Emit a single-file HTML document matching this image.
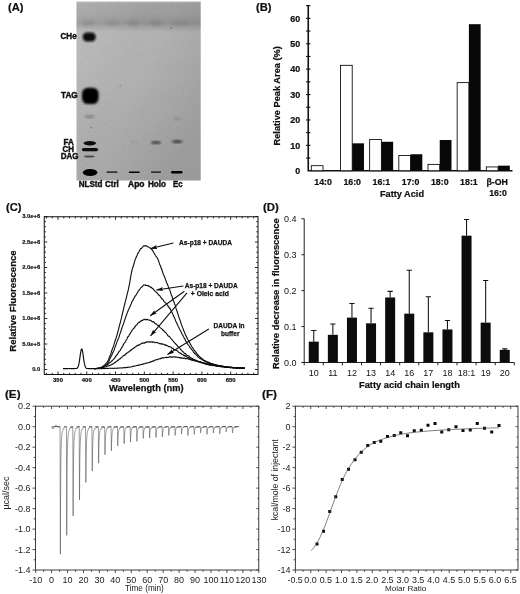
<!DOCTYPE html>
<html><head><meta charset="utf-8"><title>Figure</title>
<style>
html,body{margin:0;padding:0;background:#fff;}
svg{display:block;will-change:transform;filter:grayscale(1);font-family:"Liberation Sans",sans-serif;}
</style></head><body>
<svg width="520" height="594" viewBox="0 0 520 594">
<rect width="520" height="594" fill="#fff"/>
<text x="8" y="11.2" font-size="10.5" font-weight="bold" textLength="15.5" lengthAdjust="spacingAndGlyphs" fill="#111" stroke="#111" stroke-width="0.2">(A)</text>
<defs>
<filter id="noise" x="0" y="0" width="100%" height="100%">
<feTurbulence type="fractalNoise" baseFrequency="0.9" numOctaves="2" seed="3" result="n"/>
<feColorMatrix type="matrix" values="0 0 0 0 0  0 0 0 0 0  0 0 0 0 0  0.9 0 0 0 -0.33"/>
</filter>
<filter id="b1"><feGaussianBlur stdDeviation="1"/></filter>
<filter id="b08"><feGaussianBlur stdDeviation="0.8"/></filter>
<filter id="b06"><feGaussianBlur stdDeviation="0.6"/></filter>
<filter id="b15"><feGaussianBlur stdDeviation="1.5"/></filter>
<filter id="b3"><feGaussianBlur stdDeviation="3"/></filter>
<linearGradient id="plg" x1="0" y1="0" x2="0" y2="1">
<stop offset="0" stop-color="#b8b8b8"/>
<stop offset="0.012" stop-color="#a3a3a3"/>
<stop offset="0.07" stop-color="#a0a0a0"/>
<stop offset="0.12" stop-color="#949494"/>
<stop offset="0.17" stop-color="#b5b5b5"/>
<stop offset="0.45" stop-color="#b3b3b3"/>
<stop offset="0.75" stop-color="#aeaeae"/>
<stop offset="1" stop-color="#ababab"/>
</linearGradient>
<linearGradient id="plh" x1="0" y1="0" x2="1" y2="0.6">
<stop offset="0" stop-color="#fff" stop-opacity="0.15"/>
<stop offset="0.45" stop-color="#fff" stop-opacity="0"/>
<stop offset="0.55" stop-color="#000" stop-opacity="0"/>
<stop offset="1" stop-color="#000" stop-opacity="0.085"/>
</linearGradient>
<clipPath id="pc"><rect x="76.5" y="1.5" width="124.2" height="179"/></clipPath>
</defs>
<rect x="76.5" y="1.5" width="124.2" height="179" fill="url(#plg)"/>
<rect x="76.5" y="1.5" width="124.2" height="179" fill="url(#plh)"/>
<g clip-path="url(#pc)">
<rect x="76.5" y="1.5" width="124.2" height="179" fill="#000" filter="url(#noise)" opacity="0.12"/>
<ellipse cx="88" cy="23" rx="6.0" ry="3.5" fill="#555" opacity="0.16" filter="url(#b15)"/>
<ellipse cx="112" cy="23" rx="7.0" ry="3.5" fill="#555" opacity="0.1" filter="url(#b15)"/>
<ellipse cx="133" cy="23" rx="6.0" ry="3.5" fill="#555" opacity="0.16" filter="url(#b15)"/>
<ellipse cx="156" cy="23" rx="6.0" ry="3.5" fill="#555" opacity="0.16" filter="url(#b15)"/>
<ellipse cx="180" cy="23" rx="8.0" ry="3.5" fill="#555" opacity="0.1" filter="url(#b15)"/>
<circle cx="171" cy="28.3" r="0.7" fill="#444" opacity="0.8"/>
<circle cx="120.2" cy="85.6" r="0.6" fill="#555" opacity="0.7"/>
<circle cx="123.5" cy="84.6" r="0.4" fill="#666" opacity="0.6"/>
<rect x="82.7" y="32.6" width="13" height="8.8" rx="4.2" fill="#0a0a0a" filter="url(#b08)"/>
<rect x="82" y="87.7" width="16.6" height="16.4" rx="5.8" fill="#050505" filter="url(#b08)"/>
<ellipse cx="89.5" cy="116.5" rx="5" ry="2" fill="#666" opacity="0.5" filter="url(#b1)"/>
<circle cx="91.4" cy="127.7" r="0.7" fill="#555" opacity="0.7"/>
<ellipse cx="89.8" cy="143.3" rx="6.3" ry="2.2" fill="#0c0c0c" filter="url(#b06)"/>
<rect x="81.9" y="147.9" width="16.2" height="3.3" rx="1.65" fill="#0a0a0a" filter="url(#b06)"/>
<ellipse cx="89.3" cy="156.5" rx="5.3" ry="1.1" fill="#333" opacity="0.8" filter="url(#b06)"/>
<ellipse cx="90.1" cy="172.5" rx="7.3" ry="3.5" fill="#050505" filter="url(#b06)"/>
<filter id="b04"><feGaussianBlur stdDeviation="0.4"/></filter>
<rect x="106.5" y="171.6" width="11" height="1.2" rx="0.5" fill="#0a0a0a" filter="url(#b04)"/>
<rect x="128.8" y="171.4" width="11" height="1.5" rx="0.6" fill="#050505" filter="url(#b04)"/>
<rect x="151" y="171.5" width="10" height="1.2" rx="0.5" fill="#0a0a0a" filter="url(#b04)"/>
<rect x="171" y="171" width="11.5" height="2.4" rx="1.2" fill="#050505" filter="url(#b04)"/>
<ellipse cx="156" cy="142.6" rx="5" ry="1.5" fill="#333" opacity="0.85" filter="url(#b1)"/>
<ellipse cx="177.2" cy="141.6" rx="5.3" ry="1.6" fill="#333" opacity="0.85" filter="url(#b1)"/>
<ellipse cx="177" cy="118.8" rx="4" ry="1.6" fill="#777" opacity="0.4" filter="url(#b1)"/>
<ellipse cx="134" cy="142" rx="4" ry="2" fill="#888" opacity="0.25" filter="url(#b1)"/>
</g>
<text x="60.6" y="39.2" font-size="8.7" font-weight="bold" textLength="16.0" lengthAdjust="spacingAndGlyphs" fill="#111" stroke="#111" stroke-width="0.45">CHe</text>
<text x="61" y="97.6" font-size="8.7" font-weight="bold" textLength="16.7" lengthAdjust="spacingAndGlyphs" fill="#111" stroke="#111" stroke-width="0.45">TAG</text>
<text x="63.6" y="144.7" font-size="8.7" font-weight="bold" textLength="10.2" lengthAdjust="spacingAndGlyphs" fill="#111" stroke="#111" stroke-width="0.45">FA</text>
<text x="62.5" y="151.8" font-size="8.7" font-weight="bold" textLength="11.5" lengthAdjust="spacingAndGlyphs" fill="#111" stroke="#111" stroke-width="0.45">CH</text>
<text x="60.8" y="158.9" font-size="8.7" font-weight="bold" textLength="17.8" lengthAdjust="spacingAndGlyphs" fill="#111" stroke="#111" stroke-width="0.45">DAG</text>
<text x="78.8" y="187.1" font-size="8.7" font-weight="bold" textLength="23.6" lengthAdjust="spacingAndGlyphs" fill="#111" stroke="#111" stroke-width="0.45">NLStd</text>
<text x="105" y="187.1" font-size="8.7" font-weight="bold" textLength="13.8" lengthAdjust="spacingAndGlyphs" fill="#111" stroke="#111" stroke-width="0.45">Ctrl</text>
<text x="128" y="187.1" font-size="8.7" font-weight="bold" textLength="16.5" lengthAdjust="spacingAndGlyphs" fill="#111" stroke="#111" stroke-width="0.45">Apo</text>
<text x="148" y="187.1" font-size="8.7" font-weight="bold" textLength="18" lengthAdjust="spacingAndGlyphs" fill="#111" stroke="#111" stroke-width="0.45">Holo</text>
<text x="173" y="187.1" font-size="8.7" font-weight="bold" textLength="9.5" lengthAdjust="spacingAndGlyphs" fill="#111" stroke="#111" stroke-width="0.45">Ec</text>
<text x="256" y="11.2" font-size="10.5" font-weight="bold" textLength="15.5" lengthAdjust="spacingAndGlyphs" fill="#111" stroke="#111" stroke-width="0.2">(B)</text>
<path d="M308.25 5 V170.75 H512.5" fill="none" stroke="#111" stroke-width="1.6"/>
<path d="M306.05 158.05 H310.45" stroke="#111" stroke-width="1.1"/>
<path d="M306.05 145.35 H310.45" stroke="#111" stroke-width="1.1"/>
<path d="M306.05 132.65 H310.45" stroke="#111" stroke-width="1.1"/>
<path d="M306.05 119.95 H310.45" stroke="#111" stroke-width="1.1"/>
<path d="M306.05 107.25 H310.45" stroke="#111" stroke-width="1.1"/>
<path d="M306.05 94.55 H310.45" stroke="#111" stroke-width="1.1"/>
<path d="M306.05 81.85 H310.45" stroke="#111" stroke-width="1.1"/>
<path d="M306.05 69.15 H310.45" stroke="#111" stroke-width="1.1"/>
<path d="M306.05 56.45 H310.45" stroke="#111" stroke-width="1.1"/>
<path d="M306.05 43.75 H310.45" stroke="#111" stroke-width="1.1"/>
<path d="M306.05 31.05 H310.45" stroke="#111" stroke-width="1.1"/>
<path d="M306.05 18.35 H310.45" stroke="#111" stroke-width="1.1"/>
<path d="M306.05 5.65 H310.45" stroke="#111" stroke-width="1.1"/>
<text x="300.3" y="173.95" font-size="9" font-weight="bold" text-anchor="end" fill="#111" stroke="#111" stroke-width="0.22">0</text>
<text x="300.3" y="148.55" font-size="9" font-weight="bold" text-anchor="end" fill="#111" stroke="#111" stroke-width="0.22">10</text>
<text x="300.3" y="123.15" font-size="9" font-weight="bold" text-anchor="end" fill="#111" stroke="#111" stroke-width="0.22">20</text>
<text x="300.3" y="97.75" font-size="9" font-weight="bold" text-anchor="end" fill="#111" stroke="#111" stroke-width="0.22">30</text>
<text x="300.3" y="72.35" font-size="9" font-weight="bold" text-anchor="end" fill="#111" stroke="#111" stroke-width="0.22">40</text>
<text x="300.3" y="46.95" font-size="9" font-weight="bold" text-anchor="end" fill="#111" stroke="#111" stroke-width="0.22">50</text>
<text x="300.3" y="21.55" font-size="9" font-weight="bold" text-anchor="end" fill="#111" stroke="#111" stroke-width="0.22">60</text>
<text x="280.5" y="95.8" font-size="9.25" font-weight="bold" text-anchor="middle" transform="rotate(-90 280.5 95.8)" fill="#111" stroke="#111" stroke-width="0.22">Relative Peak Area (%)</text>
<rect x="311.30" y="165.67" width="11.75" height="5.08" fill="#fff" stroke="#111" stroke-width="0.9"/>
<rect x="340.47" y="65.34" width="11.75" height="105.41" fill="#fff" stroke="#111" stroke-width="0.9"/>
<rect x="352.22" y="143.32" width="11.75" height="27.43" fill="#060808"/>
<rect x="369.64" y="139.51" width="11.75" height="31.24" fill="#fff" stroke="#111" stroke-width="0.9"/>
<rect x="381.39" y="141.79" width="11.75" height="28.96" fill="#060808"/>
<rect x="398.81" y="155.51" width="11.75" height="15.24" fill="#fff" stroke="#111" stroke-width="0.9"/>
<rect x="410.56" y="154.24" width="11.75" height="16.51" fill="#060808"/>
<rect x="427.98" y="164.40" width="11.75" height="6.35" fill="#fff" stroke="#111" stroke-width="0.9"/>
<rect x="439.73" y="140.02" width="11.75" height="30.73" fill="#060808"/>
<rect x="457.15" y="82.61" width="11.75" height="88.14" fill="#fff" stroke="#111" stroke-width="0.9"/>
<rect x="468.90" y="24.19" width="11.75" height="146.56" fill="#060808"/>
<rect x="486.32" y="166.94" width="11.75" height="3.81" fill="#fff" stroke="#111" stroke-width="0.9"/>
<rect x="498.07" y="165.67" width="11.75" height="5.08" fill="#060808"/>
<text x="323.05" y="184.6" font-size="8.8" font-weight="bold" text-anchor="middle" fill="#111" stroke="#111" stroke-width="0.22">14:0</text>
<text x="352.22" y="184.6" font-size="8.8" font-weight="bold" text-anchor="middle" fill="#111" stroke="#111" stroke-width="0.22">16:0</text>
<text x="381.39" y="184.6" font-size="8.8" font-weight="bold" text-anchor="middle" fill="#111" stroke="#111" stroke-width="0.22">16:1</text>
<text x="410.56" y="184.6" font-size="8.8" font-weight="bold" text-anchor="middle" fill="#111" stroke="#111" stroke-width="0.22">17:0</text>
<text x="439.73" y="184.6" font-size="8.8" font-weight="bold" text-anchor="middle" fill="#111" stroke="#111" stroke-width="0.22">18:0</text>
<text x="468.9" y="184.6" font-size="8.8" font-weight="bold" text-anchor="middle" fill="#111" stroke="#111" stroke-width="0.22">18:1</text>
<text x="497.2" y="184.6" font-size="8.8" font-weight="bold" text-anchor="middle" fill="#111" stroke="#111" stroke-width="0.22">β-OH</text>
<text x="498" y="196.4" font-size="8.8" font-weight="bold" text-anchor="middle" fill="#111" stroke="#111" stroke-width="0.22">16:0</text>
<text x="402" y="196.8" font-size="9.2" font-weight="bold" text-anchor="middle" fill="#111" stroke="#111" stroke-width="0.22">Fatty Acid</text>
<text x="6" y="210.6" font-size="10.5" font-weight="bold" textLength="15.5" lengthAdjust="spacingAndGlyphs" fill="#111" stroke="#111" stroke-width="0.2">(C)</text>
<rect x="44.25" y="216.75" width="213.75" height="157.75" fill="none" stroke="#111" stroke-width="1"/>
<path d="M46.49 374.5v-1.7M46.49 216.75v1.7M52.24 374.5v-1.7M52.24 216.75v1.7M58.00 374.5v-3M58.00 216.75v3M63.76 374.5v-1.7M63.76 216.75v1.7M69.51 374.5v-1.7M69.51 216.75v1.7M75.27 374.5v-1.7M75.27 216.75v1.7M81.02 374.5v-1.7M81.02 216.75v1.7M86.78 374.5v-3M86.78 216.75v3M92.53 374.5v-1.7M92.53 216.75v1.7M98.28 374.5v-1.7M98.28 216.75v1.7M104.04 374.5v-1.7M104.04 216.75v1.7M109.80 374.5v-1.7M109.80 216.75v1.7M115.55 374.5v-3M115.55 216.75v3M121.31 374.5v-1.7M121.31 216.75v1.7M127.06 374.5v-1.7M127.06 216.75v1.7M132.81 374.5v-1.7M132.81 216.75v1.7M138.57 374.5v-1.7M138.57 216.75v1.7M144.32 374.5v-3M144.32 216.75v3M150.08 374.5v-1.7M150.08 216.75v1.7M155.84 374.5v-1.7M155.84 216.75v1.7M161.59 374.5v-1.7M161.59 216.75v1.7M167.34 374.5v-1.7M167.34 216.75v1.7M173.10 374.5v-3M173.10 216.75v3M178.86 374.5v-1.7M178.86 216.75v1.7M184.61 374.5v-1.7M184.61 216.75v1.7M190.37 374.5v-1.7M190.37 216.75v1.7M196.12 374.5v-1.7M196.12 216.75v1.7M201.88 374.5v-3M201.88 216.75v3M207.63 374.5v-1.7M207.63 216.75v1.7M213.38 374.5v-1.7M213.38 216.75v1.7M219.14 374.5v-1.7M219.14 216.75v1.7M224.90 374.5v-1.7M224.90 216.75v1.7M230.65 374.5v-3M230.65 216.75v3M236.41 374.5v-1.7M236.41 216.75v1.7M242.16 374.5v-1.7M242.16 216.75v1.7M247.91 374.5v-1.7M247.91 216.75v1.7M253.67 374.5v-1.7M253.67 216.75v1.7M44.25 369.50h3M258 369.50h-3M44.25 364.40h1.7M258 364.40h-1.7M44.25 359.30h1.7M258 359.30h-1.7M44.25 354.20h1.7M258 354.20h-1.7M44.25 349.10h1.7M258 349.10h-1.7M44.25 344.00h3M258 344.00h-3M44.25 338.90h1.7M258 338.90h-1.7M44.25 333.80h1.7M258 333.80h-1.7M44.25 328.70h1.7M258 328.70h-1.7M44.25 323.60h1.7M258 323.60h-1.7M44.25 318.50h3M258 318.50h-3M44.25 313.40h1.7M258 313.40h-1.7M44.25 308.30h1.7M258 308.30h-1.7M44.25 303.20h1.7M258 303.20h-1.7M44.25 298.10h1.7M258 298.10h-1.7M44.25 293.00h3M258 293.00h-3M44.25 287.90h1.7M258 287.90h-1.7M44.25 282.80h1.7M258 282.80h-1.7M44.25 277.70h1.7M258 277.70h-1.7M44.25 272.60h1.7M258 272.60h-1.7M44.25 267.50h3M258 267.50h-3M44.25 262.40h1.7M258 262.40h-1.7M44.25 257.30h1.7M258 257.30h-1.7M44.25 252.20h1.7M258 252.20h-1.7M44.25 247.10h1.7M258 247.10h-1.7M44.25 242.00h3M258 242.00h-3M44.25 236.90h1.7M258 236.90h-1.7M44.25 231.80h1.7M258 231.80h-1.7M44.25 226.70h1.7M258 226.70h-1.7M44.25 221.60h1.7M258 221.60h-1.7M44.25 216.50h3M258 216.50h-3" stroke="#111" stroke-width="0.9" fill="none"/>
<text x="40.2" y="371.1" font-size="5.8" font-weight="bold" text-anchor="end" fill="#111" stroke="#111" stroke-width="0.2">0.0</text>
<text x="40.2" y="345.6" font-size="5.8" font-weight="bold" text-anchor="end" fill="#111" stroke="#111" stroke-width="0.2">5.0e+5</text>
<text x="40.2" y="320.1" font-size="5.8" font-weight="bold" text-anchor="end" fill="#111" stroke="#111" stroke-width="0.2">1.0e+6</text>
<text x="40.2" y="294.6" font-size="5.8" font-weight="bold" text-anchor="end" fill="#111" stroke="#111" stroke-width="0.2">1.5e+6</text>
<text x="40.2" y="269.1" font-size="5.8" font-weight="bold" text-anchor="end" fill="#111" stroke="#111" stroke-width="0.2">2.0e+6</text>
<text x="40.2" y="243.6" font-size="5.8" font-weight="bold" text-anchor="end" fill="#111" stroke="#111" stroke-width="0.2">2.5e+6</text>
<text x="40.2" y="218.1" font-size="5.8" font-weight="bold" text-anchor="end" fill="#111" stroke="#111" stroke-width="0.2">3.0e+6</text>
<text x="58.0" y="382.3" font-size="5.9" font-weight="bold" text-anchor="middle" fill="#111" stroke="#111" stroke-width="0.2">350</text>
<text x="86.78" y="382.3" font-size="5.9" font-weight="bold" text-anchor="middle" fill="#111" stroke="#111" stroke-width="0.2">400</text>
<text x="115.55" y="382.3" font-size="5.9" font-weight="bold" text-anchor="middle" fill="#111" stroke="#111" stroke-width="0.2">450</text>
<text x="144.32" y="382.3" font-size="5.9" font-weight="bold" text-anchor="middle" fill="#111" stroke="#111" stroke-width="0.2">500</text>
<text x="173.1" y="382.3" font-size="5.9" font-weight="bold" text-anchor="middle" fill="#111" stroke="#111" stroke-width="0.2">550</text>
<text x="201.88" y="382.3" font-size="5.9" font-weight="bold" text-anchor="middle" fill="#111" stroke="#111" stroke-width="0.2">600</text>
<text x="230.65" y="382.3" font-size="5.9" font-weight="bold" text-anchor="middle" fill="#111" stroke="#111" stroke-width="0.2">650</text>
<text x="146.3" y="390.9" font-size="9.3" font-weight="bold" text-anchor="middle" fill="#111" stroke="#111" stroke-width="0.25">Wavelength (nm)</text>
<text x="15.9" y="301" font-size="9.6" font-weight="bold" text-anchor="middle" transform="rotate(-90 15.9 301)" fill="#111" stroke="#111" stroke-width="0.25">Relative Fluorescence</text>
<path d="M63.00 368.56 L63.50 368.53 L64.00 368.63 L64.50 368.51 L65.00 368.61 L65.50 368.57 L66.00 368.51 L66.50 368.60 L67.00 368.51 L67.50 368.59 L68.00 368.51 L68.50 368.52 L69.00 368.58 L69.50 368.67 L70.00 368.52 L70.50 368.54 L71.00 368.63 L71.50 368.69 L72.00 368.62 L72.50 368.58 L73.00 368.70 L73.50 368.51 L74.00 368.67 L74.50 368.56 L75.00 368.52 L75.50 368.51 L76.00 368.51 L76.50 368.53 L77.00 368.19 L77.50 367.84 L78.00 367.03 L78.50 365.56 L79.00 363.42 L79.50 360.37 L80.00 356.87 L80.50 353.34 L81.00 350.54 L81.50 348.93 L82.00 349.09 L82.50 351.01 L83.00 354.07 L83.50 357.64 L84.00 361.16 L84.50 363.95 L85.00 365.87 L85.50 367.22 L86.00 367.94 L86.50 368.39 L87.00 368.53 L87.50 368.52 L88.00 368.68 L88.50 368.52 L89.00 368.58 L89.50 368.65 L90.00 368.53 L90.50 368.60 L91.00 368.51 L91.50 368.63 L92.00 368.65 L92.50 368.61 L93.00 368.68 L93.50 368.56 L94.00 368.64 L94.50 368.62 L95.00 368.62" fill="none" stroke="#0c0c0c" stroke-width="1.15" stroke-linejoin="round"/>
<path d="M94.50 368.59 L95.00 368.70 L95.50 368.72 L96.00 368.56 L96.50 368.57 L97.00 368.34 L97.50 368.45 L98.00 368.36 L98.50 368.37 L99.00 368.22 L99.50 367.95 L100.00 367.86 L100.50 367.80 L101.00 367.38 L101.50 367.26 L102.00 366.85 L102.50 366.50 L103.00 366.13 L103.50 366.05 L104.00 365.40 L104.50 365.02 L105.00 364.61 L105.50 364.33 L106.00 363.37 L106.50 362.94 L107.00 362.30 L107.50 361.67 L108.00 360.68 L108.50 359.65 L109.00 358.06 L109.50 356.92 L110.00 355.56 L110.50 354.69 L111.00 353.41 L111.50 351.36 L112.00 350.05 L112.50 348.74 L113.00 347.34 L113.50 346.10 L114.00 344.69 L114.50 342.86 L115.00 341.05 L115.50 339.80 L116.00 338.10 L116.50 336.55 L117.00 335.12 L117.50 333.09 L118.00 331.10 L118.50 329.33 L119.00 327.50 L119.50 325.03 L120.00 323.81 L120.50 321.71 L121.00 319.78 L121.50 317.69 L122.00 315.31 L122.50 313.31 L123.00 311.03 L123.50 309.46 L124.00 306.92 L124.50 304.89 L125.00 302.98 L125.50 300.91 L126.00 299.07 L126.50 296.87 L127.00 294.90 L127.50 293.06 L128.00 290.95 L128.50 288.96 L129.00 286.17 L129.50 284.22 L130.00 281.16 L130.50 277.91 L131.00 275.22 L131.50 272.70 L132.00 270.37 L132.50 268.17 L133.00 267.07 L133.50 265.53 L134.00 263.47 L134.50 261.97 L135.00 260.18 L135.50 258.83 L136.00 257.74 L136.50 256.45 L137.00 255.79 L137.50 254.11 L138.00 252.98 L138.50 252.85 L139.00 251.59 L139.50 250.41 L140.00 249.97 L140.50 248.78 L141.00 248.57 L141.50 248.39 L142.00 247.82 L142.50 247.25 L143.00 246.45 L143.50 246.17 L144.00 245.69 L144.50 246.01 L145.00 245.73 L145.50 245.98 L146.00 245.67 L146.50 245.71 L147.00 246.39 L147.50 246.73 L148.00 246.81 L148.50 247.02 L149.00 247.36 L149.50 247.69 L150.00 247.69 L150.50 248.44 L151.00 248.81 L151.50 249.05 L152.00 249.62 L152.50 250.45 L153.00 251.08 L153.50 252.16 L154.00 253.12 L154.50 253.44 L155.00 254.67 L155.50 255.55 L156.00 256.38 L156.50 256.76 L157.00 257.55 L157.50 258.51 L158.00 259.50 L158.50 260.62 L159.00 262.18 L159.50 263.69 L160.00 264.95 L160.50 266.00 L161.00 267.54 L161.50 269.08 L162.00 269.86 L162.50 271.77 L163.00 273.37 L163.50 274.60 L164.00 275.86 L164.50 276.90 L165.00 277.91 L165.50 279.71 L166.00 280.56 L166.50 282.23 L167.00 283.64 L167.50 284.40 L168.00 285.68 L168.50 287.44 L169.00 288.55 L169.50 289.37 L170.00 290.67 L170.50 292.05 L171.00 294.08 L171.50 295.38 L172.00 296.20 L172.50 298.21 L173.00 299.76 L173.50 300.91 L174.00 302.08 L174.50 303.70 L175.00 304.78 L175.50 306.14 L176.00 308.44 L176.50 309.62 L177.00 311.01 L177.50 312.91 L178.00 314.03 L178.50 315.99 L179.00 317.53 L179.50 318.56 L180.00 320.15 L180.50 321.71 L181.00 323.15 L181.50 324.89 L182.00 325.98 L182.50 327.43 L183.00 328.43 L183.50 330.35 L184.00 331.06 L184.50 332.33 L185.00 333.59 L185.50 334.99 L186.00 335.66 L186.50 337.16 L187.00 337.84 L187.50 338.87 L188.00 339.85 L188.50 340.36 L189.00 341.66 L189.50 342.34 L190.00 343.08 L190.50 344.65 L191.00 344.96 L191.50 346.05 L192.00 347.09 L192.50 347.73 L193.00 348.29 L193.50 349.20 L194.00 349.95 L194.50 350.84 L195.00 350.90 L195.50 351.94 L196.00 352.29 L196.50 352.93 L197.00 353.96 L197.50 354.31 L198.00 354.92 L198.50 355.64 L199.00 356.29 L199.50 356.39 L200.00 357.00 L200.50 357.37 L201.00 357.81 L201.50 358.35 L202.00 358.56 L202.50 359.00 L203.00 359.33 L203.50 360.01 L204.00 360.18 L204.50 360.62 L205.00 360.98 L205.50 360.84 L206.00 361.31 L206.50 361.80 L207.00 361.98 L207.50 361.79 L208.00 361.99 L208.50 362.38 L209.00 362.38 L209.50 362.66 L210.00 362.77 L210.50 363.27 L211.00 363.50 L211.50 363.73 L212.00 363.52 L212.50 363.96 L213.00 364.09 L213.50 363.99 L214.00 364.50 L214.50 364.68 L215.00 364.47 L215.50 364.94 L216.00 364.82 L216.50 364.98 L217.00 365.32 L217.50 365.37 L218.00 365.19 L218.50 365.42 L219.00 365.56 L219.50 365.59 L220.00 365.62 L220.50 365.77 L221.00 366.03 L221.50 365.84 L222.00 366.14 L222.50 366.18 L223.00 366.10 L223.50 366.31 L224.00 366.50 L224.50 366.54 L225.00 366.45 L225.50 366.86 L226.00 366.86 L226.50 367.00 L227.00 366.75 L227.50 366.88 L228.00 366.86 L228.50 367.19 L229.00 367.07 L229.50 367.08 L230.00 367.23 L230.50 367.45 L231.00 367.47 L231.50 367.33 L232.00 367.34 L232.50 367.64 L233.00 367.57 L233.50 367.65 L234.00 367.49 L234.50 367.52 L235.00 367.77 L235.50 367.72 L236.00 367.65 L236.50 367.96 L237.00 367.90 L237.50 367.99 L238.00 367.80 L238.50 368.07 L239.00 367.86 L239.50 368.13 L240.00 368.04 L240.50 368.03 L241.00 368.12 L241.50 368.26 L242.00 368.08 L242.50 368.06 L243.00 368.20 L243.50 368.13 L244.00 368.11 L244.50 368.14 L245.00 368.12" fill="none" stroke="#0c0c0c" stroke-width="1.1" stroke-linejoin="round"/>
<path d="M94.50 368.52 L95.00 368.55 L95.50 368.54 L96.00 368.64 L96.50 368.47 L97.00 368.48 L97.50 368.32 L98.00 368.30 L98.50 368.13 L99.00 368.11 L99.50 367.95 L100.00 368.07 L100.50 367.90 L101.00 367.64 L101.50 367.55 L102.00 367.50 L102.50 366.99 L103.00 367.01 L103.50 366.63 L104.00 366.39 L104.50 366.23 L105.00 365.73 L105.50 365.42 L106.00 365.11 L106.50 364.81 L107.00 364.01 L107.50 363.64 L108.00 362.84 L108.50 361.97 L109.00 360.92 L109.50 359.90 L110.00 358.65 L110.50 357.62 L111.00 356.48 L111.50 355.96 L112.00 354.47 L112.50 353.30 L113.00 352.08 L113.50 351.55 L114.00 350.34 L114.50 348.90 L115.00 347.27 L115.50 345.92 L116.00 344.64 L116.50 343.46 L117.00 341.86 L117.50 340.78 L118.00 339.25 L118.50 338.48 L119.00 337.08 L119.50 335.28 L120.00 333.58 L120.50 332.77 L121.00 330.75 L121.50 329.35 L122.00 327.61 L122.50 326.53 L123.00 325.18 L123.50 323.75 L124.00 322.03 L124.50 320.84 L125.00 318.95 L125.50 317.74 L126.00 316.17 L126.50 315.06 L127.00 313.40 L127.50 312.08 L128.00 311.05 L128.50 309.73 L129.00 308.79 L129.50 307.51 L130.00 306.50 L130.50 305.24 L131.00 304.15 L131.50 303.19 L132.00 301.70 L132.50 300.64 L133.00 300.26 L133.50 298.60 L134.00 298.22 L134.50 297.30 L135.00 295.95 L135.50 295.84 L136.00 295.10 L136.50 294.10 L137.00 293.44 L137.50 292.77 L138.00 291.43 L138.50 291.01 L139.00 290.21 L139.50 289.73 L140.00 288.97 L140.50 288.32 L141.00 287.53 L141.50 287.35 L142.00 286.77 L142.50 286.40 L143.00 285.64 L143.50 285.15 L144.00 285.00 L144.50 285.04 L145.00 284.75 L145.50 285.42 L146.00 285.25 L146.50 285.42 L147.00 285.56 L147.50 285.78 L148.00 285.80 L148.50 285.56 L149.00 286.46 L149.50 286.64 L150.00 286.70 L150.50 287.04 L151.00 287.50 L151.50 287.36 L152.00 288.36 L152.50 288.37 L153.00 288.66 L153.50 289.29 L154.00 290.17 L154.50 290.18 L155.00 291.11 L155.50 291.79 L156.00 291.86 L156.50 292.27 L157.00 292.89 L157.50 293.62 L158.00 294.25 L158.50 294.70 L159.00 295.30 L159.50 295.40 L160.00 296.06 L160.50 296.76 L161.00 297.80 L161.50 298.02 L162.00 298.86 L162.50 298.97 L163.00 299.61 L163.50 300.39 L164.00 301.32 L164.50 301.91 L165.00 302.46 L165.50 302.69 L166.00 303.47 L166.50 304.00 L167.00 304.60 L167.50 304.91 L168.00 306.24 L168.50 306.29 L169.00 307.67 L169.50 308.36 L170.00 308.33 L170.50 309.55 L171.00 310.77 L171.50 311.88 L172.00 312.46 L172.50 313.37 L173.00 314.43 L173.50 316.21 L174.00 316.71 L174.50 318.19 L175.00 318.94 L175.50 320.40 L176.00 321.87 L176.50 322.20 L177.00 323.87 L177.50 324.67 L178.00 326.08 L178.50 326.99 L179.00 327.65 L179.50 329.30 L180.00 330.00 L180.50 330.64 L181.00 331.64 L181.50 333.07 L182.00 334.01 L182.50 334.83 L183.00 335.61 L183.50 336.70 L184.00 337.57 L184.50 338.91 L185.00 339.04 L185.50 340.56 L186.00 341.47 L186.50 341.66 L187.00 343.18 L187.50 343.78 L188.00 344.72 L188.50 344.94 L189.00 345.76 L189.50 346.51 L190.00 347.77 L190.50 348.14 L191.00 348.65 L191.50 349.40 L192.00 349.95 L192.50 350.41 L193.00 351.10 L193.50 352.36 L194.00 352.47 L194.50 353.60 L195.00 353.53 L195.50 354.05 L196.00 354.75 L196.50 354.94 L197.00 355.57 L197.50 356.51 L198.00 356.87 L198.50 357.22 L199.00 357.47 L199.50 358.07 L200.00 358.46 L200.50 358.52 L201.00 358.99 L201.50 358.85 L202.00 359.66 L202.50 359.79 L203.00 360.31 L203.50 360.55 L204.00 360.62 L204.50 360.76 L205.00 361.58 L205.50 361.36 L206.00 361.82 L206.50 361.99 L207.00 362.18 L207.50 362.63 L208.00 362.95 L208.50 362.75 L209.00 363.14 L209.50 363.14 L210.00 363.44 L210.50 363.53 L211.00 363.58 L211.50 363.74 L212.00 363.92 L212.50 364.41 L213.00 364.37 L213.50 364.38 L214.00 364.84 L214.50 365.01 L215.00 364.89 L215.50 364.88 L216.00 365.03 L216.50 365.11 L217.00 365.33 L217.50 365.34 L218.00 365.51 L218.50 365.62 L219.00 365.84 L219.50 366.07 L220.00 366.10 L220.50 366.05 L221.00 366.14 L221.50 366.27 L222.00 366.29 L222.50 366.36 L223.00 366.33 L223.50 366.49 L224.00 366.82 L224.50 366.58 L225.00 366.79 L225.50 366.91 L226.00 367.06 L226.50 366.89 L227.00 366.97 L227.50 367.03 L228.00 367.14 L228.50 367.21 L229.00 367.44 L229.50 367.45 L230.00 367.51 L230.50 367.27 L231.00 367.32 L231.50 367.59 L232.00 367.69 L232.50 367.59 L233.00 367.67 L233.50 367.51 L234.00 367.67 L234.50 367.88 L235.00 367.88 L235.50 367.93 L236.00 368.00 L236.50 367.80 L237.00 367.79 L237.50 367.84 L238.00 367.98 L238.50 368.06 L239.00 368.17 L239.50 368.13 L240.00 368.13 L240.50 368.19 L241.00 368.12 L241.50 368.17 L242.00 368.03 L242.50 368.27 L243.00 368.13 L243.50 368.34 L244.00 368.28 L244.50 368.18 L245.00 368.14" fill="none" stroke="#0c0c0c" stroke-width="1.1" stroke-linejoin="round"/>
<path d="M94.50 368.53 L95.00 368.64 L95.50 368.65 L96.00 368.46 L96.50 368.42 L97.00 368.51 L97.50 368.47 L98.00 368.36 L98.50 368.24 L99.00 368.28 L99.50 368.03 L100.00 368.04 L100.50 367.99 L101.00 368.02 L101.50 367.76 L102.00 367.65 L102.50 367.31 L103.00 367.00 L103.50 366.77 L104.00 366.78 L104.50 366.44 L105.00 366.02 L105.50 365.64 L106.00 365.54 L106.50 365.31 L107.00 364.88 L107.50 364.46 L108.00 364.29 L108.50 364.05 L109.00 363.30 L109.50 362.79 L110.00 362.52 L110.50 362.13 L111.00 361.84 L111.50 361.09 L112.00 360.99 L112.50 360.47 L113.00 359.79 L113.50 359.03 L114.00 359.00 L114.50 357.91 L115.00 357.69 L115.50 356.57 L116.00 355.90 L116.50 355.69 L117.00 354.59 L117.50 354.46 L118.00 353.35 L118.50 352.36 L119.00 351.66 L119.50 351.10 L120.00 350.58 L120.50 350.09 L121.00 348.64 L121.50 348.07 L122.00 347.09 L122.50 346.92 L123.00 345.33 L123.50 344.38 L124.00 343.50 L124.50 342.90 L125.00 342.44 L125.50 341.54 L126.00 340.51 L126.50 339.86 L127.00 338.93 L127.50 337.55 L128.00 336.60 L128.50 336.46 L129.00 335.52 L129.50 334.14 L130.00 333.95 L130.50 332.95 L131.00 332.20 L131.50 331.42 L132.00 330.54 L132.50 329.67 L133.00 329.20 L133.50 328.56 L134.00 328.40 L134.50 327.00 L135.00 327.10 L135.50 325.81 L136.00 325.35 L136.50 325.19 L137.00 324.66 L137.50 323.81 L138.00 323.01 L138.50 322.94 L139.00 322.40 L139.50 322.45 L140.00 321.40 L140.50 321.17 L141.00 321.30 L141.50 320.23 L142.00 320.31 L142.50 320.47 L143.00 320.27 L143.50 319.48 L144.00 319.33 L144.50 319.23 L145.00 319.89 L145.50 319.23 L146.00 319.62 L146.50 319.76 L147.00 319.31 L147.50 319.34 L148.00 320.06 L148.50 319.90 L149.00 319.75 L149.50 320.33 L150.00 320.16 L150.50 320.30 L151.00 320.26 L151.50 321.14 L152.00 321.53 L152.50 321.56 L153.00 322.13 L153.50 321.64 L154.00 322.15 L154.50 322.71 L155.00 323.50 L155.50 323.87 L156.00 323.75 L156.50 324.01 L157.00 324.55 L157.50 324.99 L158.00 325.77 L158.50 325.54 L159.00 326.53 L159.50 326.93 L160.00 327.48 L160.50 327.92 L161.00 328.27 L161.50 328.53 L162.00 329.03 L162.50 329.57 L163.00 330.45 L163.50 330.33 L164.00 330.93 L164.50 331.93 L165.00 331.99 L165.50 332.35 L166.00 332.84 L166.50 333.81 L167.00 334.14 L167.50 335.24 L168.00 335.69 L168.50 336.31 L169.00 336.21 L169.50 336.59 L170.00 337.14 L170.50 338.04 L171.00 338.78 L171.50 339.11 L172.00 339.48 L172.50 340.20 L173.00 340.95 L173.50 341.57 L174.00 342.20 L174.50 342.85 L175.00 343.25 L175.50 343.34 L176.00 344.52 L176.50 344.59 L177.00 345.39 L177.50 345.79 L178.00 346.67 L178.50 346.76 L179.00 347.37 L179.50 347.93 L180.00 348.40 L180.50 349.58 L181.00 349.84 L181.50 350.13 L182.00 350.69 L182.50 351.68 L183.00 351.71 L183.50 351.92 L184.00 352.87 L184.50 353.16 L185.00 353.88 L185.50 353.51 L186.00 354.24 L186.50 354.94 L187.00 355.34 L187.50 355.78 L188.00 355.38 L188.50 355.95 L189.00 356.15 L189.50 356.55 L190.00 357.51 L190.50 357.52 L191.00 358.10 L191.50 357.98 L192.00 358.65 L192.50 358.63 L193.00 358.78 L193.50 359.42 L194.00 359.80 L194.50 359.48 L195.00 360.06 L195.50 360.32 L196.00 360.29 L196.50 360.62 L197.00 360.70 L197.50 360.96 L198.00 361.21 L198.50 361.62 L199.00 361.85 L199.50 361.78 L200.00 361.86 L200.50 362.23 L201.00 362.61 L201.50 362.51 L202.00 362.76 L202.50 362.88 L203.00 363.36 L203.50 363.40 L204.00 363.31 L204.50 363.49 L205.00 363.79 L205.50 364.02 L206.00 364.20 L206.50 364.07 L207.00 364.23 L207.50 364.59 L208.00 364.57 L208.50 364.61 L209.00 364.73 L209.50 365.12 L210.00 364.92 L210.50 365.13 L211.00 365.13 L211.50 365.24 L212.00 365.52 L212.50 365.66 L213.00 365.48 L213.50 365.49 L214.00 365.78 L214.50 365.64 L215.00 365.64 L215.50 366.08 L216.00 365.95 L216.50 366.18 L217.00 366.08 L217.50 366.34 L218.00 366.24 L218.50 366.19 L219.00 366.19 L219.50 366.46 L220.00 366.55 L220.50 366.71 L221.00 366.47 L221.50 366.72 L222.00 366.69 L222.50 366.79 L223.00 366.72 L223.50 366.83 L224.00 366.97 L224.50 367.16 L225.00 366.93 L225.50 367.11 L226.00 367.27 L226.50 367.38 L227.00 367.16 L227.50 367.19 L228.00 367.51 L228.50 367.56 L229.00 367.44 L229.50 367.34 L230.00 367.67 L230.50 367.53 L231.00 367.73 L231.50 367.68 L232.00 367.77 L232.50 367.59 L233.00 367.82 L233.50 367.67 L234.00 367.76 L234.50 367.93 L235.00 367.95 L235.50 367.77 L236.00 367.81 L236.50 367.90 L237.00 367.96 L237.50 367.94 L238.00 367.89 L238.50 367.95 L239.00 368.12 L239.50 368.20 L240.00 367.96 L240.50 368.14 L241.00 368.21 L241.50 368.02 L242.00 368.27 L242.50 368.07 L243.00 368.23 L243.50 368.23 L244.00 368.27 L244.50 368.18 L245.00 368.23" fill="none" stroke="#0c0c0c" stroke-width="1.1" stroke-linejoin="round"/>
<path d="M94.50 368.62 L95.00 368.58 L95.50 368.64 L96.00 368.56 L96.50 368.53 L97.00 368.38 L97.50 368.51 L98.00 368.42 L98.50 368.30 L99.00 368.40 L99.50 368.34 L100.00 368.19 L100.50 368.03 L101.00 368.04 L101.50 367.82 L102.00 367.71 L102.50 367.68 L103.00 367.44 L103.50 367.42 L104.00 367.29 L104.50 366.99 L105.00 367.05 L105.50 366.70 L106.00 366.79 L106.50 366.65 L107.00 366.38 L107.50 366.04 L108.00 366.04 L108.50 365.80 L109.00 365.85 L109.50 365.31 L110.00 365.41 L110.50 365.27 L111.00 364.93 L111.50 364.74 L112.00 364.21 L112.50 364.33 L113.00 363.81 L113.50 363.75 L114.00 363.41 L114.50 362.68 L115.00 362.67 L115.50 362.40 L116.00 361.52 L116.50 361.31 L117.00 361.18 L117.50 360.41 L118.00 360.50 L118.50 359.69 L119.00 359.67 L119.50 358.81 L120.00 358.68 L120.50 358.62 L121.00 357.70 L121.50 357.35 L122.00 357.15 L122.50 356.60 L123.00 355.96 L123.50 355.67 L124.00 355.24 L124.50 355.51 L125.00 354.87 L125.50 354.65 L126.00 353.61 L126.50 353.75 L127.00 352.76 L127.50 352.73 L128.00 352.43 L128.50 351.80 L129.00 351.88 L129.50 351.23 L130.00 350.87 L130.50 350.76 L131.00 349.70 L131.50 350.11 L132.00 349.41 L132.50 348.83 L133.00 348.81 L133.50 347.98 L134.00 348.26 L134.50 347.54 L135.00 347.01 L135.50 347.03 L136.00 346.43 L136.50 345.89 L137.00 346.10 L137.50 345.21 L138.00 345.63 L138.50 344.88 L139.00 344.97 L139.50 345.03 L140.00 344.44 L140.50 344.27 L141.00 343.74 L141.50 343.26 L142.00 343.09 L142.50 343.02 L143.00 343.27 L143.50 342.96 L144.00 342.91 L144.50 343.14 L145.00 342.36 L145.50 342.33 L146.00 342.61 L146.50 341.95 L147.00 341.85 L147.50 342.08 L148.00 341.79 L148.50 341.95 L149.00 341.79 L149.50 342.08 L150.00 342.08 L150.50 341.75 L151.00 342.13 L151.50 342.03 L152.00 341.76 L152.50 342.51 L153.00 341.95 L153.50 341.92 L154.00 341.93 L154.50 342.46 L155.00 342.73 L155.50 342.72 L156.00 342.46 L156.50 342.44 L157.00 342.32 L157.50 343.00 L158.00 343.05 L158.50 342.99 L159.00 343.37 L159.50 343.33 L160.00 343.88 L160.50 343.83 L161.00 343.53 L161.50 344.23 L162.00 343.61 L162.50 344.17 L163.00 344.20 L163.50 344.20 L164.00 344.19 L164.50 344.98 L165.00 344.47 L165.50 345.12 L166.00 345.65 L166.50 345.14 L167.00 345.39 L167.50 345.96 L168.00 346.08 L168.50 346.43 L169.00 346.81 L169.50 346.48 L170.00 346.83 L170.50 347.07 L171.00 347.10 L171.50 348.10 L172.00 348.28 L172.50 348.49 L173.00 348.15 L173.50 349.17 L174.00 349.38 L174.50 349.43 L175.00 349.97 L175.50 350.01 L176.00 350.11 L176.50 350.30 L177.00 350.72 L177.50 350.87 L178.00 351.46 L178.50 352.15 L179.00 352.44 L179.50 352.90 L180.00 353.12 L180.50 353.05 L181.00 353.63 L181.50 353.84 L182.00 354.46 L182.50 354.52 L183.00 354.58 L183.50 355.20 L184.00 355.76 L184.50 355.38 L185.00 356.22 L185.50 355.75 L186.00 356.23 L186.50 356.47 L187.00 357.14 L187.50 357.55 L188.00 357.63 L188.50 357.55 L189.00 358.21 L189.50 358.02 L190.00 358.19 L190.50 358.91 L191.00 358.93 L191.50 359.20 L192.00 359.40 L192.50 359.83 L193.00 359.68 L193.50 360.14 L194.00 360.24 L194.50 360.54 L195.00 360.46 L195.50 360.83 L196.00 360.92 L196.50 360.93 L197.00 361.05 L197.50 361.48 L198.00 361.32 L198.50 361.98 L199.00 361.69 L199.50 361.79 L200.00 362.00 L200.50 362.62 L201.00 362.44 L201.50 362.48 L202.00 362.56 L202.50 362.72 L203.00 363.21 L203.50 363.32 L204.00 363.49 L204.50 363.65 L205.00 363.44 L205.50 363.83 L206.00 363.84 L206.50 364.19 L207.00 364.30 L207.50 364.44 L208.00 364.15 L208.50 364.63 L209.00 364.75 L209.50 364.85 L210.00 364.56 L210.50 364.70 L211.00 364.76 L211.50 364.81 L212.00 365.26 L212.50 365.33 L213.00 365.34 L213.50 365.50 L214.00 365.50 L214.50 365.43 L215.00 365.43 L215.50 365.51 L216.00 365.86 L216.50 365.70 L217.00 365.82 L217.50 365.94 L218.00 365.84 L218.50 366.01 L219.00 366.09 L219.50 366.32 L220.00 366.25 L220.50 366.29 L221.00 366.60 L221.50 366.49 L222.00 366.68 L222.50 366.66 L223.00 366.50 L223.50 366.70 L224.00 366.77 L224.50 366.95 L225.00 366.85 L225.50 367.03 L226.00 367.03 L226.50 366.97 L227.00 367.25 L227.50 367.03 L228.00 367.33 L228.50 367.16 L229.00 367.15 L229.50 367.26 L230.00 367.49 L230.50 367.61 L231.00 367.32 L231.50 367.52 L232.00 367.56 L232.50 367.70 L233.00 367.53 L233.50 367.67 L234.00 367.65 L234.50 367.84 L235.00 367.69 L235.50 367.94 L236.00 367.76 L236.50 367.77 L237.00 367.96 L237.50 367.92 L238.00 367.83 L238.50 368.02 L239.00 367.88 L239.50 368.12 L240.00 368.12 L240.50 368.17 L241.00 368.14 L241.50 368.08 L242.00 368.12 L242.50 368.14 L243.00 368.30 L243.50 368.08 L244.00 368.34 L244.50 368.09 L245.00 368.16" fill="none" stroke="#0c0c0c" stroke-width="1.1" stroke-linejoin="round"/>
<path d="M94.50 368.53 L95.00 368.71 L95.50 368.60 L96.00 368.56 L96.50 368.70 L97.00 368.52 L97.50 368.58 L98.00 368.59 L98.50 368.65 L99.00 368.65 L99.50 368.61 L100.00 368.52 L100.50 368.51 L101.00 368.46 L101.50 368.65 L102.00 368.59 L102.50 368.60 L103.00 368.43 L103.50 368.50 L104.00 368.59 L104.50 368.53 L105.00 368.39 L105.50 368.48 L106.00 368.59 L106.50 368.40 L107.00 368.38 L107.50 368.40 L108.00 368.50 L108.50 368.53 L109.00 368.32 L109.50 368.30 L110.00 368.32 L110.50 368.32 L111.00 368.37 L111.50 368.25 L112.00 368.28 L112.50 368.22 L113.00 368.44 L113.50 368.35 L114.00 368.15 L114.50 368.39 L115.00 368.12 L115.50 368.19 L116.00 368.35 L116.50 368.27 L117.00 368.24 L117.50 368.13 L118.00 368.03 L118.50 368.14 L119.00 367.96 L119.50 367.96 L120.00 367.99 L120.50 367.86 L121.00 367.94 L121.50 368.03 L122.00 367.96 L122.50 367.86 L123.00 367.86 L123.50 367.76 L124.00 367.61 L124.50 367.71 L125.00 367.59 L125.50 367.65 L126.00 367.64 L126.50 367.43 L127.00 367.41 L127.50 367.41 L128.00 367.23 L128.50 367.10 L129.00 367.20 L129.50 367.19 L130.00 367.08 L130.50 366.97 L131.00 366.94 L131.50 366.79 L132.00 366.68 L132.50 366.50 L133.00 366.35 L133.50 366.36 L134.00 366.04 L134.50 366.05 L135.00 366.09 L135.50 365.94 L136.00 365.79 L136.50 365.52 L137.00 365.48 L137.50 365.37 L138.00 365.33 L138.50 365.12 L139.00 365.12 L139.50 365.12 L140.00 364.66 L140.50 364.75 L141.00 364.68 L141.50 364.37 L142.00 364.29 L142.50 364.39 L143.00 363.80 L143.50 363.92 L144.00 363.60 L144.50 363.78 L145.00 363.73 L145.50 363.38 L146.00 363.02 L146.50 363.14 L147.00 362.98 L147.50 362.94 L148.00 362.69 L148.50 362.62 L149.00 362.59 L149.50 362.26 L150.00 362.05 L150.50 362.20 L151.00 361.61 L151.50 361.72 L152.00 361.37 L152.50 361.42 L153.00 360.84 L153.50 361.20 L154.00 360.62 L154.50 360.24 L155.00 360.20 L155.50 360.10 L156.00 359.66 L156.50 359.77 L157.00 359.60 L157.50 359.64 L158.00 359.24 L158.50 359.02 L159.00 358.82 L159.50 359.04 L160.00 359.02 L160.50 358.56 L161.00 358.18 L161.50 358.48 L162.00 358.03 L162.50 357.77 L163.00 357.59 L163.50 358.00 L164.00 357.94 L164.50 357.73 L165.00 357.53 L165.50 357.54 L166.00 357.20 L166.50 357.72 L167.00 357.17 L167.50 357.34 L168.00 357.44 L168.50 357.39 L169.00 357.07 L169.50 356.89 L170.00 357.07 L170.50 356.71 L171.00 357.27 L171.50 356.88 L172.00 357.29 L172.50 356.83 L173.00 356.94 L173.50 356.86 L174.00 357.03 L174.50 356.87 L175.00 356.76 L175.50 357.37 L176.00 357.06 L176.50 357.07 L177.00 357.16 L177.50 357.34 L178.00 357.34 L178.50 357.55 L179.00 357.63 L179.50 357.45 L180.00 357.96 L180.50 357.97 L181.00 357.42 L181.50 358.10 L182.00 358.23 L182.50 358.22 L183.00 357.81 L183.50 358.41 L184.00 358.35 L184.50 357.98 L185.00 358.07 L185.50 358.86 L186.00 358.74 L186.50 358.54 L187.00 358.54 L187.50 358.67 L188.00 358.85 L188.50 359.34 L189.00 359.15 L189.50 359.12 L190.00 359.77 L190.50 359.81 L191.00 359.50 L191.50 360.12 L192.00 360.06 L192.50 360.30 L193.00 360.35 L193.50 360.63 L194.00 360.69 L194.50 360.84 L195.00 360.56 L195.50 361.00 L196.00 361.02 L196.50 361.27 L197.00 361.21 L197.50 361.61 L198.00 361.53 L198.50 361.48 L199.00 361.59 L199.50 361.66 L200.00 361.99 L200.50 361.86 L201.00 362.22 L201.50 362.16 L202.00 362.47 L202.50 362.60 L203.00 362.74 L203.50 363.03 L204.00 362.68 L204.50 363.25 L205.00 363.17 L205.50 363.33 L206.00 363.50 L206.50 363.70 L207.00 363.57 L207.50 363.71 L208.00 364.09 L208.50 363.76 L209.00 364.15 L209.50 364.26 L210.00 364.08 L210.50 364.47 L211.00 364.61 L211.50 364.83 L212.00 364.66 L212.50 365.06 L213.00 364.95 L213.50 365.04 L214.00 365.32 L214.50 365.05 L215.00 365.45 L215.50 365.51 L216.00 365.49 L216.50 365.80 L217.00 365.69 L217.50 365.83 L218.00 365.94 L218.50 366.13 L219.00 365.99 L219.50 366.15 L220.00 366.22 L220.50 366.34 L221.00 366.51 L221.50 366.36 L222.00 366.63 L222.50 366.53 L223.00 366.62 L223.50 366.60 L224.00 366.74 L224.50 366.96 L225.00 366.90 L225.50 367.00 L226.00 366.88 L226.50 366.93 L227.00 366.97 L227.50 367.12 L228.00 367.18 L228.50 367.27 L229.00 367.06 L229.50 367.34 L230.00 367.43 L230.50 367.36 L231.00 367.23 L231.50 367.36 L232.00 367.30 L232.50 367.40 L233.00 367.68 L233.50 367.61 L234.00 367.66 L234.50 367.74 L235.00 367.81 L235.50 367.75 L236.00 367.79 L236.50 367.83 L237.00 367.88 L237.50 367.88 L238.00 367.94 L238.50 367.82 L239.00 368.00 L239.50 367.96 L240.00 368.09 L240.50 367.91 L241.00 367.96 L241.50 367.95 L242.00 368.20 L242.50 368.26 L243.00 368.21 L243.50 368.15 L244.00 368.30 L244.50 368.31 L245.00 368.27" fill="none" stroke="#0c0c0c" stroke-width="1.1" stroke-linejoin="round"/>
<text x="179.1" y="245.2" font-size="6.55" font-weight="bold" fill="#111" stroke="#111" stroke-width="0.25">As-p18 + DAUDA</text>
<text x="184.8" y="288" font-size="6.55" font-weight="bold" fill="#111" stroke="#111" stroke-width="0.25">As-p18 + DAUDA</text>
<text x="190.8" y="295.7" font-size="6.55" font-weight="bold" textLength="38" lengthAdjust="spacingAndGlyphs" fill="#111" stroke="#111" stroke-width="0.25">+  Oleic acid</text>
<text x="213.5" y="327.7" font-size="6.55" font-weight="bold" fill="#111" stroke="#111" stroke-width="0.25">DAUDA in</text>
<text x="221" y="335.5" font-size="6.5" font-weight="bold" fill="#111" stroke="#111" stroke-width="0.25">buffer</text>
<defs><marker id="ah" markerWidth="8" markerHeight="6" refX="6.6" refY="3" orient="auto" markerUnits="userSpaceOnUse"><path d="M0 0.9 L7 3 L0 5.1 L1.2 3 Z" fill="#0c0c0c"/></marker></defs>
<line x1="173.4" y1="243.1" x2="150.6" y2="248.6" stroke="#0c0c0c" stroke-width="1.05" marker-end="url(#ah)"/>
<line x1="183.4" y1="286.1" x2="156.5" y2="289.9" stroke="#0c0c0c" stroke-width="1.05" marker-end="url(#ah)"/>
<line x1="184.4" y1="291.3" x2="150.2" y2="315.7" stroke="#0c0c0c" stroke-width="1.05" marker-end="url(#ah)"/>
<line x1="187" y1="292.8" x2="150.6" y2="335.8" stroke="#0c0c0c" stroke-width="1.05" marker-end="url(#ah)"/>
<line x1="208.8" y1="329" x2="167.5" y2="354.5" stroke="#0c0c0c" stroke-width="1.05" marker-end="url(#ah)"/>
<text x="263" y="210.6" font-size="10.5" font-weight="bold" textLength="15.8" lengthAdjust="spacingAndGlyphs" fill="#111" stroke="#111" stroke-width="0.2">(D)</text>
<path d="M304.2 218.6 V362.5 H514.3" fill="none" stroke="#222" stroke-width="1"/>
<text x="296.5" y="365.7" font-size="9" text-anchor="end" fill="#111">0.0</text>
<text x="296.5" y="329.77" font-size="9" text-anchor="end" fill="#111">0.1</text>
<text x="296.5" y="293.84" font-size="9" text-anchor="end" fill="#111">0.2</text>
<text x="296.5" y="257.91" font-size="9" text-anchor="end" fill="#111">0.3</text>
<text x="296.5" y="221.98" font-size="9" text-anchor="end" fill="#111">0.4</text>
<path d="M304.2 362.50h-2.8M304.2 326.57h-2.8M304.2 290.64h-2.8M304.2 254.71h-2.8M304.2 218.78h-2.8M304.20 362.5v2.8M323.30 362.5v2.8M342.40 362.5v2.8M361.50 362.5v2.8M380.60 362.5v2.8M399.70 362.5v2.8M418.80 362.5v2.8M437.90 362.5v2.8M457.00 362.5v2.8M476.10 362.5v2.8M495.20 362.5v2.8M514.30 362.5v2.8" stroke="#222" stroke-width="1" fill="none"/>
<rect x="308.75" y="341.66" width="10" height="20.84" fill="#0a0c0c"/>
<path d="M313.75 341.66V330.52M311.15 330.52h5.2" stroke="#111" stroke-width="1.05" fill="none"/>
<text x="313.75" y="375.8" font-size="9" text-anchor="middle" fill="#111">10</text>
<rect x="327.85" y="334.83" width="10" height="27.67" fill="#0a0c0c"/>
<path d="M332.85 334.83V324.05M330.25 324.05h5.2" stroke="#111" stroke-width="1.05" fill="none"/>
<text x="332.85" y="375.8" font-size="9" text-anchor="middle" fill="#111">11</text>
<rect x="346.95" y="317.59" width="10" height="44.91" fill="#0a0c0c"/>
<path d="M351.95 317.59V303.57M349.35 303.57h5.2" stroke="#111" stroke-width="1.05" fill="none"/>
<text x="351.95" y="375.8" font-size="9" text-anchor="middle" fill="#111">12</text>
<rect x="366.05" y="323.34" width="10" height="39.16" fill="#0a0c0c"/>
<path d="M371.05 323.34V308.25M368.45 308.25h5.2" stroke="#111" stroke-width="1.05" fill="none"/>
<text x="371.05" y="375.8" font-size="9" text-anchor="middle" fill="#111">13</text>
<rect x="385.15" y="297.47" width="10" height="65.03" fill="#0a0c0c"/>
<path d="M390.15 297.47V291.36M387.55 291.36h5.2" stroke="#111" stroke-width="1.05" fill="none"/>
<text x="390.15" y="375.8" font-size="9" text-anchor="middle" fill="#111">14</text>
<rect x="404.25" y="313.64" width="10" height="48.86" fill="#0a0c0c"/>
<path d="M409.25 313.64V270.16M406.65 270.16h5.2" stroke="#111" stroke-width="1.05" fill="none"/>
<text x="409.25" y="375.8" font-size="9" text-anchor="middle" fill="#111">16</text>
<rect x="423.35" y="332.32" width="10" height="30.18" fill="#0a0c0c"/>
<path d="M428.35 332.32V296.75M425.75 296.75h5.2" stroke="#111" stroke-width="1.05" fill="none"/>
<text x="428.35" y="375.8" font-size="9" text-anchor="middle" fill="#111">17</text>
<rect x="442.45" y="329.44" width="10" height="33.06" fill="#0a0c0c"/>
<path d="M447.45 329.44V320.46M444.85 320.46h5.2" stroke="#111" stroke-width="1.05" fill="none"/>
<text x="447.45" y="375.8" font-size="9" text-anchor="middle" fill="#111">18</text>
<rect x="461.55" y="235.67" width="10" height="126.83" fill="#0a0c0c"/>
<path d="M466.55 235.67V219.50M463.95 219.50h5.2" stroke="#111" stroke-width="1.05" fill="none"/>
<text x="466.55" y="375.8" font-size="9" text-anchor="middle" fill="#111">18:1</text>
<rect x="480.65" y="322.62" width="10" height="39.88" fill="#0a0c0c"/>
<path d="M485.65 322.62V280.58M483.05 280.58h5.2" stroke="#111" stroke-width="1.05" fill="none"/>
<text x="485.65" y="375.8" font-size="9" text-anchor="middle" fill="#111">19</text>
<rect x="499.75" y="349.92" width="10" height="12.58" fill="#0a0c0c"/>
<path d="M504.75 349.92V348.85M502.15 348.85h5.2" stroke="#111" stroke-width="1.05" fill="none"/>
<text x="504.75" y="375.8" font-size="9" text-anchor="middle" fill="#111">20</text>
<text x="409.4" y="387.6" font-size="9.32" font-weight="bold" text-anchor="middle" fill="#111" stroke="#111" stroke-width="0.22">Fatty acid chain length</text>
<text x="279.2" y="293.6" font-size="9.4" font-weight="bold" text-anchor="middle" transform="rotate(-90 279.2 293.6)" fill="#111" stroke="#111" stroke-width="0.22">Relative decrease in fluorescence</text>
<text x="5" y="397.6" font-size="10.5" font-weight="bold" textLength="15.5" lengthAdjust="spacingAndGlyphs" fill="#111" stroke="#111" stroke-width="0.2">(E)</text>
<rect x="35.5" y="406.2" width="223.25" height="163.8" fill="none" stroke="#3c3c3c" stroke-width="1"/>
<path d="M35.66 570.0v3M35.66 406.2v2.8M43.63 570.0v1.8M43.63 406.2v1.6M51.60 570.0v3M51.60 406.2v2.8M59.57 570.0v1.8M59.57 406.2v1.6M67.54 570.0v3M67.54 406.2v2.8M75.51 570.0v1.8M75.51 406.2v1.6M83.48 570.0v3M83.48 406.2v2.8M91.45 570.0v1.8M91.45 406.2v1.6M99.42 570.0v3M99.42 406.2v2.8M107.39 570.0v1.8M107.39 406.2v1.6M115.36 570.0v3M115.36 406.2v2.8M123.33 570.0v1.8M123.33 406.2v1.6M131.30 570.0v3M131.30 406.2v2.8M139.27 570.0v1.8M139.27 406.2v1.6M147.24 570.0v3M147.24 406.2v2.8M155.21 570.0v1.8M155.21 406.2v1.6M163.18 570.0v3M163.18 406.2v2.8M171.15 570.0v1.8M171.15 406.2v1.6M179.12 570.0v3M179.12 406.2v2.8M187.09 570.0v1.8M187.09 406.2v1.6M195.06 570.0v3M195.06 406.2v2.8M203.03 570.0v1.8M203.03 406.2v1.6M211.00 570.0v3M211.00 406.2v2.8M218.97 570.0v1.8M218.97 406.2v1.6M226.94 570.0v3M226.94 406.2v2.8M234.91 570.0v1.8M234.91 406.2v1.6M242.88 570.0v3M242.88 406.2v2.8M250.85 570.0v1.8M250.85 406.2v1.6M258.82 570.0v3M258.82 406.2v2.8M35.5 406.20h-3M258.75 406.20h-2.4000000000000004M35.5 416.44h-1.8M258.75 416.44h-1.4400000000000002M35.5 426.68h-3M258.75 426.68h-2.4000000000000004M35.5 436.92h-1.8M258.75 436.92h-1.4400000000000002M35.5 447.16h-3M258.75 447.16h-2.4000000000000004M35.5 457.40h-1.8M258.75 457.40h-1.4400000000000002M35.5 467.64h-3M258.75 467.64h-2.4000000000000004M35.5 477.88h-1.8M258.75 477.88h-1.4400000000000002M35.5 488.12h-3M258.75 488.12h-2.4000000000000004M35.5 498.36h-1.8M258.75 498.36h-1.4400000000000002M35.5 508.60h-3M258.75 508.60h-2.4000000000000004M35.5 518.84h-1.8M258.75 518.84h-1.4400000000000002M35.5 529.08h-3M258.75 529.08h-2.4000000000000004M35.5 539.32h-1.8M258.75 539.32h-1.4400000000000002M35.5 549.56h-3M258.75 549.56h-2.4000000000000004M35.5 559.80h-1.8M258.75 559.80h-1.4400000000000002M35.5 570.04h-3M258.75 570.04h-2.4000000000000004" stroke="#3c3c3c" stroke-width="0.9" fill="none"/>
<text x="30.5" y="409.4" font-size="9" text-anchor="end" fill="#222">0.2</text>
<text x="30.5" y="429.88" font-size="9" text-anchor="end" fill="#222">0.0</text>
<text x="30.5" y="450.36" font-size="9" text-anchor="end" fill="#222">-0.2</text>
<text x="30.5" y="470.84" font-size="9" text-anchor="end" fill="#222">-0.4</text>
<text x="30.5" y="491.32" font-size="9" text-anchor="end" fill="#222">-0.6</text>
<text x="30.5" y="511.8" font-size="9" text-anchor="end" fill="#222">-0.8</text>
<text x="30.5" y="532.28" font-size="9" text-anchor="end" fill="#222">-1.0</text>
<text x="30.5" y="552.76" font-size="9" text-anchor="end" fill="#222">-1.2</text>
<text x="30.5" y="573.24" font-size="9" text-anchor="end" fill="#222">-1.4</text>
<text x="35.66" y="582.9" font-size="9" text-anchor="middle" fill="#222">-10</text>
<text x="51.6" y="582.9" font-size="9" text-anchor="middle" fill="#222">0</text>
<text x="67.54" y="582.9" font-size="9" text-anchor="middle" fill="#222">10</text>
<text x="83.48" y="582.9" font-size="9" text-anchor="middle" fill="#222">20</text>
<text x="99.42" y="582.9" font-size="9" text-anchor="middle" fill="#222">30</text>
<text x="115.36" y="582.9" font-size="9" text-anchor="middle" fill="#222">40</text>
<text x="131.3" y="582.9" font-size="9" text-anchor="middle" fill="#222">50</text>
<text x="147.24" y="582.9" font-size="9" text-anchor="middle" fill="#222">60</text>
<text x="163.18" y="582.9" font-size="9" text-anchor="middle" fill="#222">70</text>
<text x="179.12" y="582.9" font-size="9" text-anchor="middle" fill="#222">80</text>
<text x="195.06" y="582.9" font-size="9" text-anchor="middle" fill="#222">90</text>
<text x="211.0" y="582.9" font-size="9" text-anchor="middle" fill="#222">100</text>
<text x="226.94" y="582.9" font-size="9" text-anchor="middle" fill="#222">110</text>
<text x="242.88" y="582.9" font-size="9" text-anchor="middle" fill="#222">120</text>
<text x="251.52" y="582.9" font-size="9" fill="#222">130</text>
<text x="144.4" y="590.6" font-size="8.2" text-anchor="middle" fill="#222">Time (min)</text>
<text x="8.6" y="493" font-size="9" text-anchor="middle" transform="rotate(-90 8.6 493)" fill="#222">µcal/sec</text>
<path d="M51.60 426.70 L51.68 426.83 L51.76 426.78 L51.84 426.99 L51.92 427.15 L52.00 427.27 L52.08 427.57 L52.16 427.67 L52.24 427.71 L52.32 427.66 L52.40 427.98 L52.48 428.14 L52.56 428.37 L52.64 428.20 L52.72 428.12 L52.80 428.38 L52.88 428.12 L52.95 427.91 L53.03 427.88 L53.11 427.87 L53.19 428.08 L53.27 428.30 L53.35 428.21 L53.43 428.35 L53.51 428.38 L53.59 428.36 L53.67 428.43 L53.75 428.26 L53.83 428.11 L53.91 427.78 L53.99 427.65 L54.07 427.46 L54.15 427.37 L54.23 427.19 L54.31 427.13 L54.39 427.15 L54.47 426.80 L54.55 426.50 L54.63 426.32 L54.71 426.22 L54.79 426.32 L54.87 426.44 L54.95 426.48 L55.03 426.61 L55.11 426.37 L55.19 426.34 L55.27 426.09 L55.35 426.12 L55.43 425.85 L55.51 425.68 L55.59 425.96 L55.66 426.08 L55.74 425.83 L55.82 425.85 L55.90 425.61 L55.98 425.71 L56.06 425.95 L56.14 425.88 L56.22 425.75 L56.30 425.91 L56.38 426.13 L56.46 426.19 L56.54 425.94 L56.62 425.85 L56.70 426.10 L56.78 426.24 L56.86 426.44 L56.94 426.63 L57.02 426.43 L57.10 426.58 L57.18 426.53 L57.26 426.55 L57.34 426.71 L57.42 426.57 L57.50 426.77 L57.58 426.69 L57.66 426.89 L57.74 426.91 L57.82 427.04 L57.90 427.12 L57.98 426.85 L58.06 426.72 L58.14 426.87 L58.22 426.70 L58.29 426.91 L58.37 426.99 L58.45 426.83 L58.53 426.81 L58.61 427.07 L58.69 426.84 L58.77 427.03 L58.85 426.79 L58.93 426.63 L59.01 426.73 L59.09 426.82 L59.17 427.00 L59.25 427.14 L59.33 427.01 L59.41 427.07 L59.49 426.94 L59.57 426.95 L59.65 426.92 L59.73 426.65 L59.81 426.66 L59.89 426.63 L59.97 426.46 L60.05 426.66 L60.13 458.70 L60.21 490.35 L60.29 522.08 L60.37 554.12 L60.45 527.61 L60.53 507.19 L60.61 491.49 L60.69 479.79 L60.77 470.38 L60.85 463.09 L60.92 457.49 L61.00 453.15 L61.08 449.83 L61.16 447.17 L61.24 444.54 L61.32 442.72 L61.40 440.95 L61.48 439.68 L61.56 438.30 L61.64 437.23 L61.72 436.44 L61.80 435.78 L61.88 434.92 L61.96 434.48 L62.04 433.98 L62.12 433.35 L62.20 432.65 L62.28 432.15 L62.36 431.86 L62.44 431.27 L62.52 431.10 L62.60 431.01 L62.68 430.78 L62.76 430.47 L62.84 430.38 L62.92 430.22 L63.00 429.96 L63.08 429.63 L63.16 429.56 L63.24 429.36 L63.32 428.92 L63.40 428.51 L63.48 428.31 L63.55 428.13 L63.63 428.01 L63.71 428.12 L63.79 428.25 L63.87 428.34 L63.95 427.97 L64.03 427.76 L64.11 427.46 L64.19 427.67 L64.27 427.52 L64.35 427.47 L64.43 427.30 L64.51 427.36 L64.59 427.07 L64.67 427.28 L64.75 427.22 L64.83 427.07 L64.91 426.86 L64.99 426.77 L65.07 426.71 L65.15 426.61 L65.23 426.47 L65.31 426.63 L65.39 426.59 L65.47 426.45 L65.55 426.35 L65.63 426.49 L65.71 426.42 L65.79 426.32 L65.87 426.39 L65.95 426.41 L66.03 426.54 L66.11 426.55 L66.19 426.55 L66.26 426.80 L66.34 426.72 L66.42 426.49 L66.50 453.51 L66.58 480.75 L66.66 508.16 L66.74 535.37 L66.82 514.24 L66.90 497.88 L66.98 484.92 L67.06 475.13 L67.14 467.09 L67.22 461.08 L67.30 456.00 L67.38 451.98 L67.46 448.84 L67.54 446.04 L67.62 443.84 L67.70 441.94 L67.78 440.19 L67.86 439.04 L67.94 438.17 L68.02 437.25 L68.10 436.25 L68.18 435.61 L68.26 435.05 L68.34 434.18 L68.42 433.54 L68.50 433.07 L68.58 432.42 L68.66 432.13 L68.74 431.68 L68.82 431.50 L68.89 431.20 L68.97 430.73 L69.05 430.27 L69.13 429.88 L69.21 429.78 L69.29 429.57 L69.37 429.50 L69.45 429.51 L69.53 429.31 L69.61 428.97 L69.69 428.66 L69.77 428.46 L69.85 428.16 L69.93 428.24 L70.01 428.34 L70.09 428.26 L70.17 428.27 L70.25 428.29 L70.33 428.20 L70.41 428.01 L70.49 427.91 L70.57 427.91 L70.65 427.64 L70.73 427.34 L70.81 427.36 L70.89 427.55 L70.97 427.71 L71.05 427.43 L71.13 427.60 L71.21 427.40 L71.29 427.31 L71.37 427.35 L71.45 427.15 L71.53 427.36 L71.60 427.46 L71.68 427.39 L71.76 427.54 L71.84 427.26 L71.92 427.32 L72.00 427.41 L72.08 427.53 L72.16 427.34 L72.24 427.27 L72.32 427.12 L72.40 426.99 L72.48 426.81 L72.56 426.58 L72.64 426.54 L72.72 426.74 L72.80 426.60 L72.88 449.05 L72.96 471.54 L73.04 493.76 L73.12 515.88 L73.20 499.98 L73.28 487.33 L73.36 477.21 L73.44 468.97 L73.52 462.44 L73.60 457.13 L73.68 452.76 L73.76 449.38 L73.84 446.41 L73.92 443.90 L74.00 442.22 L74.08 440.39 L74.16 438.95 L74.23 438.01 L74.31 437.04 L74.39 436.10 L74.47 435.14 L74.55 434.57 L74.63 433.97 L74.71 433.27 L74.79 432.69 L74.87 432.11 L74.95 431.83 L75.03 431.47 L75.11 431.36 L75.19 430.97 L75.27 430.57 L75.35 430.31 L75.43 430.02 L75.51 430.01 L75.59 429.63 L75.67 429.26 L75.75 428.93 L75.83 428.87 L75.91 428.66 L75.99 428.71 L76.07 428.43 L76.15 428.22 L76.23 428.28 L76.31 428.44 L76.39 428.38 L76.47 428.26 L76.55 428.04 L76.63 427.99 L76.71 428.16 L76.79 427.91 L76.86 428.05 L76.94 427.80 L77.02 427.90 L77.10 427.88 L77.18 427.64 L77.26 427.76 L77.34 427.84 L77.42 427.71 L77.50 427.51 L77.58 427.28 L77.66 427.16 L77.74 426.94 L77.82 426.97 L77.90 426.77 L77.98 427.03 L78.06 427.17 L78.14 427.13 L78.22 427.20 L78.30 427.04 L78.38 426.96 L78.46 426.94 L78.54 426.77 L78.62 426.77 L78.70 426.89 L78.78 426.94 L78.86 426.76 L78.94 426.58 L79.02 426.78 L79.10 426.62 L79.18 426.23 L79.26 444.61 L79.34 462.96 L79.42 481.47 L79.50 499.78 L79.57 487.35 L79.65 477.30 L79.73 469.47 L79.81 462.67 L79.89 457.37 L79.97 453.11 L80.05 449.42 L80.13 446.50 L80.21 444.12 L80.29 442.04 L80.37 440.60 L80.45 439.15 L80.53 437.97 L80.61 436.70 L80.69 435.63 L80.77 435.04 L80.85 434.40 L80.93 434.01 L81.01 433.49 L81.09 432.83 L81.17 432.22 L81.25 431.89 L81.33 431.66 L81.41 431.50 L81.49 431.13 L81.57 430.64 L81.65 430.61 L81.73 430.23 L81.81 430.26 L81.89 430.18 L81.97 430.07 L82.05 429.73 L82.13 429.62 L82.20 429.48 L82.28 429.23 L82.36 429.25 L82.44 428.95 L82.52 428.98 L82.60 428.80 L82.68 428.77 L82.76 428.76 L82.84 428.57 L82.92 428.45 L83.00 428.37 L83.08 428.28 L83.16 428.13 L83.24 428.19 L83.32 428.20 L83.40 427.99 L83.48 427.81 L83.56 427.71 L83.64 427.47 L83.72 427.38 L83.80 427.19 L83.88 427.33 L83.96 427.19 L84.04 427.03 L84.12 426.86 L84.20 427.00 L84.28 427.11 L84.36 426.90 L84.44 427.07 L84.52 426.82 L84.60 426.67 L84.68 426.91 L84.76 427.05 L84.83 426.92 L84.91 427.05 L84.99 427.22 L85.07 427.00 L85.15 427.02 L85.23 426.85 L85.31 427.04 L85.39 427.05 L85.47 426.92 L85.55 426.92 L85.63 441.03 L85.71 454.87 L85.79 468.64 L85.87 482.42 L85.95 473.67 L86.03 466.34 L86.11 460.22 L86.19 455.34 L86.27 451.23 L86.35 448.09 L86.43 445.54 L86.51 443.40 L86.59 441.63 L86.67 439.90 L86.75 438.45 L86.83 437.21 L86.91 436.35 L86.99 435.59 L87.07 434.92 L87.15 434.02 L87.23 433.17 L87.31 432.48 L87.39 432.29 L87.47 432.11 L87.54 431.49 L87.62 431.20 L87.70 430.79 L87.78 430.64 L87.86 430.42 L87.94 430.19 L88.02 430.02 L88.10 429.77 L88.18 429.84 L88.26 429.53 L88.34 429.19 L88.42 429.22 L88.50 429.09 L88.58 428.83 L88.66 428.77 L88.74 428.80 L88.82 428.83 L88.90 428.67 L88.98 428.77 L89.06 428.40 L89.14 428.14 L89.22 427.96 L89.30 427.74 L89.38 427.66 L89.46 427.70 L89.54 427.62 L89.62 427.60 L89.70 427.33 L89.78 427.20 L89.86 427.36 L89.94 427.15 L90.02 427.07 L90.10 426.97 L90.17 426.87 L90.25 426.99 L90.33 426.83 L90.41 426.71 L90.49 426.70 L90.57 426.65 L90.65 426.61 L90.73 426.75 L90.81 426.70 L90.89 426.97 L90.97 427.06 L91.05 427.06 L91.13 427.28 L91.21 427.29 L91.29 427.15 L91.37 427.05 L91.45 427.15 L91.53 426.88 L91.61 426.80 L91.69 426.90 L91.77 426.82 L91.85 426.79 L91.93 426.57 L92.01 437.83 L92.09 448.78 L92.17 459.95 L92.25 471.10 L92.33 464.10 L92.41 458.25 L92.49 453.90 L92.57 450.01 L92.65 446.73 L92.73 444.24 L92.80 442.09 L92.88 440.47 L92.96 439.02 L93.04 437.70 L93.12 436.72 L93.20 435.81 L93.28 434.70 L93.36 433.93 L93.44 433.30 L93.52 432.52 L93.60 432.05 L93.68 431.42 L93.76 431.06 L93.84 430.65 L93.92 430.65 L94.00 430.37 L94.08 430.03 L94.16 430.08 L94.24 429.67 L94.32 429.69 L94.40 429.53 L94.48 429.52 L94.56 429.34 L94.64 429.12 L94.72 429.19 L94.80 428.80 L94.88 428.72 L94.96 428.60 L95.04 428.45 L95.12 428.42 L95.20 428.43 L95.28 428.24 L95.36 428.13 L95.44 428.16 L95.51 427.96 L95.59 428.00 L95.67 428.16 L95.75 428.16 L95.83 428.25 L95.91 428.27 L95.99 427.97 L96.07 427.91 L96.15 427.60 L96.23 427.42 L96.31 427.62 L96.39 427.30 L96.47 427.07 L96.55 427.30 L96.63 427.08 L96.71 427.12 L96.79 427.13 L96.87 426.89 L96.95 427.06 L97.03 427.05 L97.11 426.83 L97.19 426.76 L97.27 426.82 L97.35 426.62 L97.43 426.53 L97.51 426.57 L97.59 426.83 L97.67 426.79 L97.75 426.84 L97.83 426.99 L97.91 427.19 L97.99 427.12 L98.07 427.25 L98.14 427.20 L98.22 427.05 L98.30 426.82 L98.38 436.02 L98.46 445.05 L98.54 454.18 L98.62 463.12 L98.70 457.61 L98.78 452.82 L98.86 448.88 L98.94 445.73 L99.02 443.35 L99.10 441.42 L99.18 439.41 L99.26 437.78 L99.34 436.49 L99.42 435.53 L99.50 434.75 L99.58 433.87 L99.66 433.18 L99.74 432.57 L99.82 432.02 L99.90 431.48 L99.98 431.30 L100.06 431.08 L100.14 430.52 L100.22 430.08 L100.30 429.71 L100.38 429.81 L100.46 429.85 L100.54 429.75 L100.62 429.58 L100.70 429.32 L100.77 429.36 L100.85 429.15 L100.93 429.19 L101.01 429.21 L101.09 428.91 L101.17 428.72 L101.25 428.52 L101.33 428.47 L101.41 428.36 L101.49 428.40 L101.57 428.35 L101.65 428.10 L101.73 427.85 L101.81 428.01 L101.89 428.11 L101.97 427.84 L102.05 427.71 L102.13 427.52 L102.21 427.64 L102.29 427.62 L102.37 427.68 L102.45 427.46 L102.53 427.48 L102.61 427.36 L102.69 427.09 L102.77 427.19 L102.85 427.16 L102.93 427.04 L103.01 426.85 L103.09 426.93 L103.17 427.02 L103.25 427.23 L103.33 427.00 L103.41 427.21 L103.48 427.38 L103.56 427.27 L103.64 427.21 L103.72 427.07 L103.80 427.14 L103.88 426.97 L103.96 427.16 L104.04 427.25 L104.12 427.10 L104.20 427.26 L104.28 427.28 L104.36 427.09 L104.44 426.94 L104.52 427.03 L104.60 427.17 L104.68 426.98 L104.76 433.80 L104.84 440.83 L104.92 447.97 L105.00 454.79 L105.08 450.61 L105.16 446.97 L105.24 443.94 L105.32 441.43 L105.40 439.57 L105.48 437.82 L105.56 436.60 L105.64 435.56 L105.72 434.63 L105.80 433.58 L105.88 432.71 L105.96 432.28 L106.04 431.85 L106.11 431.47 L106.19 431.14 L106.27 430.82 L106.35 430.54 L106.43 430.39 L106.51 430.06 L106.59 429.66 L106.67 429.45 L106.75 429.11 L106.83 428.95 L106.91 429.00 L106.99 428.73 L107.07 428.45 L107.15 428.49 L107.23 428.65 L107.31 428.51 L107.39 428.38 L107.47 428.24 L107.55 427.93 L107.63 427.82 L107.71 427.65 L107.79 427.87 L107.87 427.79 L107.95 427.61 L108.03 427.80 L108.11 427.94 L108.19 427.72 L108.27 427.46 L108.35 427.65 L108.43 427.52 L108.51 427.65 L108.59 427.46 L108.67 427.34 L108.74 427.44 L108.82 427.53 L108.90 427.33 L108.98 427.28 L109.06 427.12 L109.14 427.17 L109.22 427.23 L109.30 426.97 L109.38 426.90 L109.46 426.93 L109.54 426.92 L109.62 426.83 L109.70 426.76 L109.78 426.59 L109.86 426.71 L109.94 426.59 L110.02 426.58 L110.10 426.47 L110.18 426.41 L110.26 426.34 L110.34 426.26 L110.42 426.15 L110.50 426.23 L110.58 426.34 L110.66 426.34 L110.74 426.29 L110.82 426.44 L110.90 426.55 L110.98 426.78 L111.06 426.50 L111.14 432.29 L111.22 438.42 L111.30 444.62 L111.38 450.76 L111.45 447.29 L111.53 444.46 L111.61 441.77 L111.69 439.98 L111.77 438.34 L111.85 437.06 L111.93 435.72 L112.01 434.52 L112.09 433.81 L112.17 433.25 L112.25 432.57 L112.33 431.93 L112.41 431.22 L112.49 431.06 L112.57 430.86 L112.65 430.64 L112.73 430.42 L112.81 430.21 L112.89 429.79 L112.97 429.49 L113.05 429.41 L113.13 429.35 L113.21 429.24 L113.29 429.19 L113.37 428.85 L113.45 428.78 L113.53 428.59 L113.61 428.30 L113.69 428.22 L113.77 428.25 L113.85 427.96 L113.93 427.70 L114.01 427.76 L114.08 427.70 L114.16 427.45 L114.24 427.47 L114.32 427.60 L114.40 427.79 L114.48 427.49 L114.56 427.31 L114.64 427.37 L114.72 427.34 L114.80 427.32 L114.88 427.41 L114.96 427.13 L115.04 427.06 L115.12 427.21 L115.20 427.44 L115.28 427.39 L115.36 427.39 L115.44 427.18 L115.52 427.05 L115.60 427.00 L115.68 427.17 L115.76 427.31 L115.84 427.33 L115.92 427.38 L116.00 427.11 L116.08 427.07 L116.16 426.98 L116.24 426.72 L116.32 426.87 L116.40 426.86 L116.48 427.04 L116.56 426.87 L116.64 427.12 L116.71 426.91 L116.79 426.73 L116.87 426.59 L116.95 426.85 L117.03 426.96 L117.11 426.82 L117.19 427.02 L117.27 426.99 L117.35 426.96 L117.43 426.71 L117.51 431.41 L117.59 436.12 L117.67 441.14 L117.75 445.89 L117.83 443.19 L117.91 440.68 L117.99 439.00 L118.07 437.22 L118.15 436.03 L118.23 434.86 L118.31 433.88 L118.39 433.23 L118.47 432.34 L118.55 431.84 L118.63 431.41 L118.71 431.16 L118.79 430.81 L118.87 430.42 L118.95 429.97 L119.03 429.76 L119.11 429.41 L119.19 429.40 L119.27 429.23 L119.34 429.05 L119.42 428.63 L119.50 428.36 L119.58 428.21 L119.66 428.39 L119.74 428.35 L119.82 428.14 L119.90 428.19 L119.98 428.06 L120.06 428.00 L120.14 428.16 L120.22 427.80 L120.30 427.59 L120.38 427.71 L120.46 427.60 L120.54 427.67 L120.62 427.67 L120.70 427.58 L120.78 427.63 L120.86 427.63 L120.94 427.61 L121.02 427.45 L121.10 427.52 L121.18 427.60 L121.26 427.39 L121.34 427.42 L121.42 427.14 L121.50 427.10 L121.58 426.98 L121.66 427.08 L121.74 426.91 L121.82 427.13 L121.90 427.28 L121.98 427.42 L122.05 427.24 L122.13 427.08 L122.21 427.21 L122.29 427.20 L122.37 426.98 L122.45 426.92 L122.53 427.12 L122.61 427.20 L122.69 427.31 L122.77 427.40 L122.85 427.34 L122.93 427.45 L123.01 427.12 L123.09 427.10 L123.17 427.04 L123.25 426.92 L123.33 426.77 L123.41 426.62 L123.49 426.71 L123.57 426.81 L123.65 426.85 L123.73 427.08 L123.81 427.06 L123.89 431.09 L123.97 435.13 L124.05 439.32 L124.13 443.60 L124.21 441.15 L124.29 439.39 L124.37 437.75 L124.45 436.37 L124.53 435.06 L124.61 434.22 L124.68 433.37 L124.76 432.59 L124.84 431.78 L124.92 431.09 L125.00 430.61 L125.08 430.42 L125.16 429.94 L125.24 429.47 L125.32 429.25 L125.40 429.15 L125.48 428.98 L125.56 429.00 L125.64 428.72 L125.72 428.34 L125.80 428.26 L125.88 428.09 L125.96 427.88 L126.04 428.01 L126.12 427.74 L126.20 427.66 L126.28 427.81 L126.36 427.97 L126.44 428.01 L126.52 427.87 L126.60 427.69 L126.68 427.73 L126.76 427.45 L126.84 427.50 L126.92 427.48 L127.00 427.63 L127.08 427.33 L127.16 427.49 L127.24 427.23 L127.31 427.20 L127.39 427.17 L127.47 427.13 L127.55 427.25 L127.63 427.02 L127.71 426.79 L127.79 426.69 L127.87 426.71 L127.95 426.96 L128.03 426.81 L128.11 426.95 L128.19 426.76 L128.27 426.93 L128.35 426.90 L128.43 426.74 L128.51 426.93 L128.59 426.91 L128.67 427.12 L128.75 427.30 L128.83 427.37 L128.91 427.04 L128.99 426.79 L129.07 426.72 L129.15 426.84 L129.23 426.76 L129.31 426.66 L129.39 426.75 L129.47 426.72 L129.55 426.59 L129.63 426.87 L129.71 427.00 L129.79 426.98 L129.87 427.11 L129.95 427.10 L130.02 427.01 L130.10 427.12 L130.18 427.04 L130.26 430.83 L130.34 434.58 L130.42 438.46 L130.50 442.18 L130.58 440.20 L130.66 438.22 L130.74 436.83 L130.82 435.26 L130.90 434.12 L130.98 433.23 L131.06 432.50 L131.14 431.78 L131.22 431.14 L131.30 430.56 L131.38 430.07 L131.46 429.78 L131.54 429.28 L131.62 428.94 L131.70 428.64 L131.78 428.60 L131.86 428.53 L131.94 428.41 L132.02 428.12 L132.10 428.07 L132.18 428.01 L132.26 428.00 L132.34 427.75 L132.42 427.82 L132.50 428.00 L132.58 427.81 L132.65 427.56 L132.73 427.43 L132.81 427.39 L132.89 427.28 L132.97 427.39 L133.05 427.34 L133.13 427.55 L133.21 427.68 L133.29 427.63 L133.37 427.55 L133.45 427.53 L133.53 427.68 L133.61 427.48 L133.69 427.40 L133.77 427.47 L133.85 427.49 L133.93 427.46 L134.01 427.51 L134.09 427.63 L134.17 427.31 L134.25 427.02 L134.33 426.93 L134.41 426.76 L134.49 426.84 L134.57 426.71 L134.65 426.89 L134.73 426.78 L134.81 426.77 L134.89 426.60 L134.97 426.86 L135.05 426.72 L135.13 426.94 L135.21 426.90 L135.28 426.67 L135.36 426.95 L135.44 427.06 L135.52 427.11 L135.60 427.14 L135.68 427.29 L135.76 427.00 L135.84 426.81 L135.92 426.86 L136.00 426.91 L136.08 426.85 L136.16 427.06 L136.24 427.23 L136.32 426.95 L136.40 427.01 L136.48 426.96 L136.56 426.71 L136.64 430.04 L136.72 433.78 L136.80 437.63 L136.88 441.40 L136.96 439.10 L137.04 437.20 L137.12 435.96 L137.20 434.59 L137.28 433.68 L137.36 432.85 L137.44 432.30 L137.52 431.47 L137.60 430.71 L137.68 430.47 L137.76 430.04 L137.84 429.89 L137.92 429.41 L137.99 429.41 L138.07 429.37 L138.15 429.01 L138.23 428.92 L138.31 428.53 L138.39 428.23 L138.47 428.05 L138.55 428.18 L138.63 428.00 L138.71 427.72 L138.79 427.73 L138.87 427.91 L138.95 427.97 L139.03 427.98 L139.11 427.77 L139.19 427.85 L139.27 427.92 L139.35 427.94 L139.43 427.73 L139.51 427.50 L139.59 427.52 L139.67 427.38 L139.75 427.16 L139.83 427.12 L139.91 427.26 L139.99 427.34 L140.07 427.08 L140.15 427.01 L140.23 427.13 L140.31 427.05 L140.39 427.25 L140.47 426.97 L140.55 427.01 L140.62 426.99 L140.70 426.97 L140.78 427.19 L140.86 427.10 L140.94 427.17 L141.02 427.25 L141.10 427.03 L141.18 427.21 L141.26 427.25 L141.34 427.05 L141.42 427.14 L141.50 427.20 L141.58 427.10 L141.66 427.21 L141.74 426.94 L141.82 426.68 L141.90 426.94 L141.98 426.93 L142.06 426.79 L142.14 426.85 L142.22 426.63 L142.30 426.66 L142.38 426.84 L142.46 426.81 L142.54 426.73 L142.62 426.81 L142.70 426.72 L142.78 426.59 L142.86 426.62 L142.94 426.64 L143.02 429.42 L143.10 432.41 L143.18 435.48 L143.25 438.33 L143.33 436.88 L143.41 435.36 L143.49 434.38 L143.57 433.34 L143.65 432.64 L143.73 431.94 L143.81 431.19 L143.89 430.55 L143.97 430.01 L144.05 429.82 L144.13 429.53 L144.21 429.40 L144.29 429.11 L144.37 428.90 L144.45 428.94 L144.53 428.69 L144.61 428.41 L144.69 428.25 L144.77 427.96 L144.85 428.06 L144.93 428.14 L145.01 428.26 L145.09 428.12 L145.17 428.02 L145.25 427.93 L145.33 427.95 L145.41 427.68 L145.49 427.82 L145.57 427.52 L145.65 427.44 L145.73 427.38 L145.81 427.20 L145.89 427.33 L145.96 427.47 L146.04 427.50 L146.12 427.65 L146.20 427.63 L146.28 427.47 L146.36 427.37 L146.44 427.42 L146.52 427.30 L146.60 427.45 L146.68 427.20 L146.76 427.32 L146.84 427.37 L146.92 427.46 L147.00 427.26 L147.08 427.03 L147.16 426.87 L147.24 427.09 L147.32 427.10 L147.40 427.12 L147.48 427.21 L147.56 426.91 L147.64 427.13 L147.72 427.08 L147.80 426.90 L147.88 426.65 L147.96 426.86 L148.04 426.88 L148.12 426.74 L148.20 426.98 L148.28 427.08 L148.36 426.83 L148.44 427.00 L148.52 427.01 L148.59 427.06 L148.67 427.04 L148.75 427.20 L148.83 427.34 L148.91 426.98 L148.99 426.81 L149.07 426.68 L149.15 426.83 L149.23 426.94 L149.31 426.87 L149.39 429.71 L149.47 432.50 L149.55 435.07 L149.63 437.96 L149.71 436.46 L149.79 434.88 L149.87 433.75 L149.95 433.07 L150.03 432.31 L150.11 431.55 L150.19 431.20 L150.27 430.75 L150.35 430.19 L150.43 429.64 L150.51 429.31 L150.59 428.88 L150.67 428.73 L150.75 428.63 L150.83 428.31 L150.91 428.27 L150.99 428.03 L151.07 428.11 L151.15 428.09 L151.22 428.15 L151.30 428.01 L151.38 428.07 L151.46 428.10 L151.54 428.10 L151.62 427.98 L151.70 427.95 L151.78 427.85 L151.86 427.50 L151.94 427.36 L152.02 427.16 L152.10 427.32 L152.18 427.35 L152.26 427.52 L152.34 427.35 L152.42 427.37 L152.50 427.43 L152.58 427.60 L152.66 427.65 L152.74 427.64 L152.82 427.57 L152.90 427.25 L152.98 427.09 L153.06 427.19 L153.14 427.21 L153.22 427.33 L153.30 427.04 L153.38 427.08 L153.46 426.92 L153.54 426.81 L153.62 426.63 L153.70 426.91 L153.78 426.99 L153.86 427.03 L153.93 427.20 L154.01 426.94 L154.09 427.01 L154.17 426.84 L154.25 426.83 L154.33 427.05 L154.41 427.05 L154.49 427.13 L154.57 427.29 L154.65 427.36 L154.73 427.20 L154.81 427.35 L154.89 427.33 L154.97 427.26 L155.05 427.14 L155.13 427.24 L155.21 427.05 L155.29 427.11 L155.37 426.93 L155.45 426.81 L155.53 426.97 L155.61 427.07 L155.69 427.11 L155.77 429.55 L155.85 432.25 L155.93 434.95 L156.01 437.42 L156.09 436.05 L156.17 434.87 L156.25 433.84 L156.33 433.04 L156.41 432.45 L156.49 431.94 L156.56 431.22 L156.64 430.64 L156.72 430.03 L156.80 429.44 L156.88 429.28 L156.96 428.95 L157.04 428.55 L157.12 428.56 L157.20 428.32 L157.28 428.13 L157.36 427.83 L157.44 427.61 L157.52 427.74 L157.60 427.64 L157.68 427.82 L157.76 427.78 L157.84 427.77 L157.92 427.91 L158.00 427.86 L158.08 427.84 L158.16 427.73 L158.24 427.75 L158.32 427.81 L158.40 427.74 L158.48 427.64 L158.56 427.71 L158.64 427.52 L158.72 427.57 L158.80 427.67 L158.88 427.63 L158.96 427.56 L159.04 427.63 L159.12 427.47 L159.19 427.28 L159.27 427.19 L159.35 427.05 L159.43 427.27 L159.51 427.26 L159.59 427.26 L159.67 427.41 L159.75 427.36 L159.83 427.49 L159.91 427.37 L159.99 427.23 L160.07 427.18 L160.15 427.20 L160.23 427.25 L160.31 427.41 L160.39 427.37 L160.47 427.07 L160.55 426.99 L160.63 427.07 L160.71 426.94 L160.79 427.07 L160.87 427.03 L160.95 426.93 L161.03 426.68 L161.11 426.77 L161.19 426.73 L161.27 426.52 L161.35 426.44 L161.43 426.44 L161.51 426.45 L161.59 426.55 L161.67 426.64 L161.75 426.77 L161.83 426.60 L161.90 426.45 L161.98 426.56 L162.06 426.40 L162.14 429.13 L162.22 431.83 L162.30 434.31 L162.38 436.89 L162.46 435.52 L162.54 434.07 L162.62 433.27 L162.70 432.56 L162.78 431.94 L162.86 431.19 L162.94 430.78 L163.02 430.55 L163.10 430.07 L163.18 429.74 L163.26 429.53 L163.34 429.22 L163.42 428.88 L163.50 428.65 L163.58 428.41 L163.66 428.24 L163.74 427.96 L163.82 427.66 L163.90 427.72 L163.98 427.75 L164.06 427.50 L164.14 427.58 L164.22 427.43 L164.30 427.32 L164.38 427.23 L164.46 427.01 L164.53 426.90 L164.61 427.14 L164.69 427.09 L164.77 427.11 L164.85 427.09 L164.93 427.16 L165.01 427.26 L165.09 427.10 L165.17 427.08 L165.25 427.21 L165.33 427.30 L165.41 427.33 L165.49 427.42 L165.57 427.33 L165.65 427.44 L165.73 427.56 L165.81 427.65 L165.89 427.70 L165.97 427.45 L166.05 427.53 L166.13 427.43 L166.21 427.19 L166.29 427.14 L166.37 427.25 L166.45 426.99 L166.53 426.78 L166.61 427.02 L166.69 427.10 L166.77 427.05 L166.85 426.86 L166.93 426.90 L167.01 426.78 L167.09 426.91 L167.16 426.78 L167.24 426.87 L167.32 426.93 L167.40 426.78 L167.48 426.61 L167.56 426.48 L167.64 426.51 L167.72 426.60 L167.80 426.53 L167.88 426.51 L167.96 426.40 L168.04 426.32 L168.12 426.59 L168.20 426.68 L168.28 426.61 L168.36 426.77 L168.44 426.92 L168.52 429.31 L168.60 431.44 L168.68 433.43 L168.76 435.45 L168.84 434.42 L168.92 433.28 L169.00 432.45 L169.08 431.65 L169.16 431.09 L169.24 430.35 L169.32 429.70 L169.40 429.62 L169.48 429.22 L169.56 429.16 L169.64 429.14 L169.72 428.99 L169.80 428.63 L169.87 428.20 L169.95 428.28 L170.03 428.23 L170.11 428.33 L170.19 428.14 L170.27 428.02 L170.35 427.96 L170.43 427.94 L170.51 427.67 L170.59 427.44 L170.67 427.51 L170.75 427.51 L170.83 427.40 L170.91 427.23 L170.99 426.98 L171.07 427.07 L171.15 426.99 L171.23 426.99 L171.31 426.86 L171.39 427.08 L171.47 427.23 L171.55 427.39 L171.63 427.10 L171.71 427.20 L171.79 427.17 L171.87 427.32 L171.95 427.33 L172.03 427.49 L172.11 427.35 L172.19 427.44 L172.27 427.27 L172.35 427.31 L172.43 427.36 L172.50 427.27 L172.58 427.26 L172.66 427.30 L172.74 427.43 L172.82 427.53 L172.90 427.20 L172.98 427.22 L173.06 427.35 L173.14 427.40 L173.22 427.29 L173.30 426.95 L173.38 427.07 L173.46 426.83 L173.54 426.83 L173.62 426.86 L173.70 426.70 L173.78 426.76 L173.86 426.98 L173.94 426.91 L174.02 426.81 L174.10 426.74 L174.18 426.85 L174.26 426.62 L174.34 426.46 L174.42 426.28 L174.50 426.40 L174.58 426.30 L174.66 426.28 L174.74 426.53 L174.82 426.80 L174.90 428.94 L174.98 431.13 L175.06 433.32 L175.13 435.34 L175.21 433.98 L175.29 433.07 L175.37 432.20 L175.45 431.72 L175.53 431.20 L175.61 430.39 L175.69 430.19 L175.77 429.75 L175.85 429.25 L175.93 428.83 L176.01 428.51 L176.09 428.41 L176.17 428.11 L176.25 427.86 L176.33 427.67 L176.41 427.40 L176.49 427.61 L176.57 427.35 L176.65 427.41 L176.73 427.30 L176.81 427.43 L176.89 427.20 L176.97 427.45 L177.05 427.37 L177.13 427.47 L177.21 427.47 L177.29 427.47 L177.37 427.32 L177.45 427.13 L177.53 427.19 L177.61 427.10 L177.69 427.16 L177.77 427.25 L177.84 427.00 L177.92 427.09 L178.00 427.27 L178.08 427.29 L178.16 427.11 L178.24 427.22 L178.32 427.04 L178.40 427.00 L178.48 426.89 L178.56 427.05 L178.64 427.21 L178.72 427.32 L178.80 427.31 L178.88 427.25 L178.96 427.42 L179.04 427.30 L179.12 427.26 L179.20 427.26 L179.28 427.15 L179.36 426.87 L179.44 427.00 L179.52 426.77 L179.60 426.87 L179.68 426.73 L179.76 426.93 L179.84 426.66 L179.92 426.72 L180.00 426.51 L180.08 426.70 L180.16 426.76 L180.24 426.66 L180.32 426.84 L180.40 426.93 L180.47 426.81 L180.55 426.58 L180.63 426.70 L180.71 426.86 L180.79 426.91 L180.87 426.63 L180.95 426.83 L181.03 426.74 L181.11 426.80 L181.19 426.71 L181.27 428.72 L181.35 430.56 L181.43 432.28 L181.51 434.06 L181.59 432.99 L181.67 432.15 L181.75 431.42 L181.83 431.02 L181.91 430.31 L181.99 429.80 L182.07 429.48 L182.15 429.10 L182.23 428.90 L182.31 428.74 L182.39 428.67 L182.47 428.42 L182.55 428.23 L182.63 428.09 L182.71 428.20 L182.79 428.00 L182.87 427.91 L182.95 427.76 L183.03 427.63 L183.10 427.36 L183.18 427.51 L183.26 427.48 L183.34 427.18 L183.42 427.07 L183.50 427.18 L183.58 427.06 L183.66 426.83 L183.74 426.94 L183.82 426.79 L183.90 427.03 L183.98 426.79 L184.06 426.84 L184.14 427.01 L184.22 426.84 L184.30 426.80 L184.38 426.62 L184.46 426.52 L184.54 426.46 L184.62 426.55 L184.70 426.38 L184.78 426.70 L184.86 426.56 L184.94 426.52 L185.02 426.72 L185.10 426.60 L185.18 426.67 L185.26 426.69 L185.34 426.54 L185.42 426.75 L185.50 426.88 L185.58 426.79 L185.66 427.01 L185.74 426.94 L185.81 426.77 L185.89 426.78 L185.97 426.91 L186.05 426.74 L186.13 426.58 L186.21 426.48 L186.29 426.52 L186.37 426.37 L186.45 426.30 L186.53 426.57 L186.61 426.67 L186.69 426.88 L186.77 427.09 L186.85 427.09 L186.93 426.84 L187.01 426.66 L187.09 426.86 L187.17 427.00 L187.25 427.00 L187.33 426.77 L187.41 426.71 L187.49 426.51 L187.57 426.77 L187.65 428.72 L187.73 431.16 L187.81 433.35 L187.89 435.44 L187.97 434.12 L188.05 433.28 L188.13 432.33 L188.21 431.65 L188.29 431.28 L188.37 430.79 L188.44 430.39 L188.52 429.89 L188.60 429.64 L188.68 429.26 L188.76 428.90 L188.84 428.85 L188.92 428.81 L189.00 428.50 L189.08 428.35 L189.16 428.38 L189.24 428.40 L189.32 428.01 L189.40 427.85 L189.48 427.83 L189.56 427.89 L189.64 427.54 L189.72 427.40 L189.80 427.26 L189.88 427.33 L189.96 427.40 L190.04 427.41 L190.12 427.54 L190.20 427.40 L190.28 427.38 L190.36 427.17 L190.44 427.20 L190.52 427.19 L190.60 427.16 L190.68 426.92 L190.76 427.02 L190.84 426.91 L190.92 427.06 L191.00 427.00 L191.07 427.10 L191.15 426.89 L191.23 427.00 L191.31 426.81 L191.39 426.75 L191.47 426.80 L191.55 426.60 L191.63 426.72 L191.71 426.63 L191.79 426.63 L191.87 426.70 L191.95 426.94 L192.03 426.96 L192.11 427.04 L192.19 427.03 L192.27 426.76 L192.35 426.88 L192.43 426.77 L192.51 426.69 L192.59 426.84 L192.67 426.87 L192.75 427.03 L192.83 426.79 L192.91 426.91 L192.99 426.92 L193.07 426.97 L193.15 426.77 L193.23 426.59 L193.31 426.58 L193.39 426.59 L193.47 426.82 L193.55 426.61 L193.63 426.84 L193.71 426.89 L193.78 426.92 L193.86 426.77 L193.94 426.68 L194.02 428.63 L194.10 430.35 L194.18 432.08 L194.26 434.31 L194.34 433.19 L194.42 432.33 L194.50 431.66 L194.58 431.04 L194.66 430.58 L194.74 430.02 L194.82 429.58 L194.90 429.03 L194.98 428.57 L195.06 428.18 L195.14 428.14 L195.22 427.89 L195.30 427.76 L195.38 427.62 L195.46 427.36 L195.54 427.59 L195.62 427.58 L195.70 427.59 L195.78 427.47 L195.86 427.58 L195.94 427.28 L196.02 427.42 L196.10 427.44 L196.18 427.57 L196.26 427.54 L196.34 427.35 L196.41 427.51 L196.49 427.59 L196.57 427.42 L196.65 427.29 L196.73 427.12 L196.81 427.22 L196.89 427.03 L196.97 426.91 L197.05 426.79 L197.13 427.01 L197.21 427.02 L197.29 427.24 L197.37 427.00 L197.45 426.77 L197.53 426.60 L197.61 426.90 L197.69 426.97 L197.77 426.93 L197.85 426.90 L197.93 427.09 L198.01 426.90 L198.09 426.99 L198.17 426.95 L198.25 427.11 L198.33 427.02 L198.41 427.16 L198.49 427.30 L198.57 427.19 L198.65 427.21 L198.73 426.99 L198.81 427.08 L198.89 427.06 L198.97 427.22 L199.04 427.27 L199.12 427.20 L199.20 427.08 L199.28 427.04 L199.36 426.81 L199.44 426.99 L199.52 426.77 L199.60 426.94 L199.68 426.67 L199.76 426.67 L199.84 426.73 L199.92 426.68 L200.00 426.51 L200.08 426.33 L200.16 426.45 L200.24 426.75 L200.32 426.91 L200.40 428.20 L200.48 429.62 L200.56 431.08 L200.64 432.83 L200.72 431.96 L200.80 431.48 L200.88 431.03 L200.96 430.55 L201.04 429.81 L201.12 429.36 L201.20 428.88 L201.28 428.87 L201.36 428.67 L201.44 428.66 L201.52 428.56 L201.60 428.53 L201.68 428.11 L201.75 428.05 L201.83 427.92 L201.91 427.72 L201.99 427.44 L202.07 427.19 L202.15 427.16 L202.23 427.17 L202.31 426.97 L202.39 427.05 L202.47 427.17 L202.55 427.04 L202.63 427.16 L202.71 427.21 L202.79 427.21 L202.87 427.18 L202.95 427.22 L203.03 427.21 L203.11 427.19 L203.19 427.36 L203.27 427.12 L203.35 427.30 L203.43 427.21 L203.51 427.13 L203.59 427.13 L203.67 427.22 L203.75 427.35 L203.83 427.32 L203.91 427.32 L203.99 427.24 L204.07 427.29 L204.15 427.08 L204.23 427.04 L204.31 427.24 L204.38 427.20 L204.46 426.89 L204.54 427.12 L204.62 427.01 L204.70 426.74 L204.78 426.82 L204.86 426.76 L204.94 426.83 L205.02 426.92 L205.10 426.84 L205.18 426.78 L205.26 426.87 L205.34 426.85 L205.42 426.82 L205.50 426.68 L205.58 426.92 L205.66 427.08 L205.74 427.14 L205.82 427.17 L205.90 426.94 L205.98 426.93 L206.06 426.72 L206.14 426.77 L206.22 426.87 L206.30 426.75 L206.38 426.95 L206.46 426.67 L206.54 426.51 L206.62 426.64 L206.70 426.74 L206.78 428.46 L206.86 430.26 L206.94 432.17 L207.01 434.36 L207.09 433.16 L207.17 432.52 L207.25 431.68 L207.33 431.01 L207.41 430.26 L207.49 429.78 L207.57 429.68 L207.65 429.13 L207.73 428.76 L207.81 428.53 L207.89 428.62 L207.97 428.31 L208.05 428.21 L208.13 428.00 L208.21 427.66 L208.29 427.42 L208.37 427.63 L208.45 427.44 L208.53 427.46 L208.61 427.30 L208.69 427.36 L208.77 427.37 L208.85 427.37 L208.93 427.52 L209.01 427.54 L209.09 427.35 L209.17 427.52 L209.25 427.62 L209.33 427.35 L209.41 427.21 L209.49 427.16 L209.57 427.32 L209.65 427.45 L209.72 427.45 L209.80 427.14 L209.88 427.07 L209.96 426.84 L210.04 427.01 L210.12 427.03 L210.20 426.99 L210.28 426.81 L210.36 427.01 L210.44 426.81 L210.52 426.83 L210.60 427.07 L210.68 427.06 L210.76 427.08 L210.84 426.95 L210.92 426.72 L211.00 426.74 L211.08 426.67 L211.16 426.75 L211.24 426.63 L211.32 426.86 L211.40 426.73 L211.48 426.90 L211.56 426.84 L211.64 426.97 L211.72 427.01 L211.80 427.13 L211.88 427.13 L211.96 427.01 L212.04 426.95 L212.12 426.97 L212.20 426.89 L212.28 426.69 L212.35 426.77 L212.43 426.73 L212.51 426.74 L212.59 426.50 L212.67 426.64 L212.75 426.56 L212.83 426.72 L212.91 426.84 L212.99 426.71 L213.07 426.67 L213.15 428.29 L213.23 430.02 L213.31 431.34 L213.39 432.93 L213.47 431.95 L213.55 431.28 L213.63 430.61 L213.71 430.09 L213.79 429.44 L213.87 428.93 L213.95 428.73 L214.03 428.54 L214.11 428.49 L214.19 428.19 L214.27 428.26 L214.35 428.20 L214.43 427.87 L214.51 428.01 L214.59 427.78 L214.67 427.65 L214.75 427.55 L214.83 427.58 L214.91 427.68 L214.98 427.36 L215.06 427.19 L215.14 427.03 L215.22 427.25 L215.30 427.08 L215.38 427.22 L215.46 427.33 L215.54 427.26 L215.62 427.16 L215.70 427.31 L215.78 427.12 L215.86 427.05 L215.94 426.84 L216.02 426.65 L216.10 426.62 L216.18 426.75 L216.26 426.56 L216.34 426.52 L216.42 426.70 L216.50 426.56 L216.58 426.51 L216.66 426.70 L216.74 426.85 L216.82 427.09 L216.90 427.02 L216.98 427.10 L217.06 427.15 L217.14 427.21 L217.22 427.31 L217.30 427.22 L217.38 427.25 L217.46 427.26 L217.54 427.28 L217.62 427.17 L217.69 426.91 L217.77 427.05 L217.85 426.82 L217.93 426.64 L218.01 426.61 L218.09 426.62 L218.17 426.53 L218.25 426.56 L218.33 426.52 L218.41 426.36 L218.49 426.30 L218.57 426.51 L218.65 426.77 L218.73 426.55 L218.81 426.65 L218.89 426.53 L218.97 426.70 L219.05 426.73 L219.13 426.79 L219.21 426.66 L219.29 426.46 L219.37 426.51 L219.45 426.52 L219.53 428.33 L219.61 430.22 L219.69 431.73 L219.77 433.69 L219.85 432.50 L219.93 431.65 L220.01 431.22 L220.09 430.44 L220.17 430.18 L220.25 429.73 L220.32 429.56 L220.40 428.98 L220.48 428.84 L220.56 428.43 L220.64 428.49 L220.72 428.23 L220.80 428.30 L220.88 428.37 L220.96 428.15 L221.04 427.76 L221.12 427.59 L221.20 427.36 L221.28 427.21 L221.36 427.21 L221.44 427.42 L221.52 427.36 L221.60 427.48 L221.68 427.40 L221.76 427.42 L221.84 427.36 L221.92 427.45 L222.00 427.28 L222.08 427.27 L222.16 427.23 L222.24 427.40 L222.32 427.32 L222.40 427.23 L222.48 426.94 L222.56 426.92 L222.64 427.10 L222.72 427.17 L222.80 427.20 L222.88 427.04 L222.95 426.80 L223.03 426.58 L223.11 426.42 L223.19 426.30 L223.27 426.24 L223.35 426.15 L223.43 426.52 L223.51 426.59 L223.59 426.60 L223.67 426.55 L223.75 426.55 L223.83 426.55 L223.91 426.38 L223.99 426.67 L224.07 426.69 L224.15 426.48 L224.23 426.77 L224.31 426.96 L224.39 426.75 L224.47 426.53 L224.55 426.81 L224.63 427.03 L224.71 426.81 L224.79 426.71 L224.87 426.71 L224.95 426.68 L225.03 426.56 L225.11 426.45 L225.19 426.75 L225.27 426.96 L225.35 426.77 L225.43 426.53 L225.51 426.41 L225.59 426.52 L225.66 426.64 L225.74 426.73 L225.82 426.97 L225.90 428.02 L225.98 429.40 L226.06 430.61 L226.14 431.86 L226.22 431.22 L226.30 430.52 L226.38 430.04 L226.46 429.74 L226.54 429.16 L226.62 429.03 L226.70 428.92 L226.78 428.77 L226.86 428.53 L226.94 428.17 L227.02 428.10 L227.10 428.08 L227.18 427.85 L227.26 427.85 L227.34 427.72 L227.42 427.74 L227.50 427.44 L227.58 427.54 L227.66 427.59 L227.74 427.59 L227.82 427.58 L227.90 427.36 L227.98 427.21 L228.06 427.04 L228.14 427.01 L228.22 427.22 L228.29 427.04 L228.37 427.15 L228.45 427.25 L228.53 427.23 L228.61 426.93 L228.69 426.99 L228.77 427.05 L228.85 426.81 L228.93 426.59 L229.01 426.70 L229.09 426.91 L229.17 426.76 L229.25 426.64 L229.33 426.76 L229.41 426.63 L229.49 426.73 L229.57 426.85 L229.65 426.80 L229.73 426.68 L229.81 426.72 L229.89 426.58 L229.97 426.86 L230.05 426.85 L230.13 426.89 L230.21 427.08 L230.29 426.82 L230.37 426.98 L230.45 427.08 L230.53 426.83 L230.61 426.59 L230.69 426.41 L230.77 426.56 L230.85 426.38 L230.92 426.63 L231.00 426.55 L231.08 426.37 L231.16 426.59 L231.24 426.80 L231.32 426.70 L231.40 426.52 L231.48 426.45 L231.56 426.28 L231.64 426.39 L231.72 426.52 L231.80 426.75 L231.88 426.85 L231.96 426.61 L232.04 426.84 L232.12 426.97 L232.20 426.99 L232.28 428.53 L232.36 429.94 L232.44 431.42 L232.52 432.91 L232.60 432.00 L232.68 431.23 L232.76 430.58 L232.84 429.94 L232.92 429.52 L233.00 428.95 L233.08 428.91 L233.16 428.80 L233.24 428.76 L233.32 428.61 L233.40 428.25 L233.48 427.88 L233.56 427.78 L233.63 427.85 L233.71 427.83 L233.79 427.68 L233.87 427.69 L233.95 427.45 L234.03 427.16 L234.11 427.18 L234.19 427.12 L234.27 426.95 L234.35 426.99 L234.43 427.16 L234.51 426.92 L234.59 426.71 L234.67 427.00 L234.75 426.87 L234.83 426.94 L234.91 427.17 L234.99 427.29 L235.07 427.38 L235.15 427.18 L235.23 427.27 L235.31 427.43 L235.39 427.46 L235.47 427.20 L235.55 427.14 L235.63 427.01 L235.71 426.99 L235.79 427.12 L235.87 427.30 L235.95 427.31 L236.03 427.44 L236.11 427.43 L236.19 427.25 L236.26 427.23 L236.34 427.16 L236.42 427.02 L236.50 427.07 L236.58 427.08 L236.66 426.83 L236.74 426.78 L236.82 426.82 L236.90 426.79 L236.98 426.81 L237.06 426.88 L237.14 426.65 L237.22 426.80 L237.30 426.58 L237.38 426.44 L237.46 426.31 L237.54 426.56 L237.62 426.59 L237.70 426.39 L237.78 426.56 L237.86 426.76 L237.94 426.64 L238.02 426.79 L238.10 426.73 L238.18 426.90 L238.26 426.64 L238.34 426.77 L238.42 426.95 L238.50 426.81 L238.58 426.87" fill="none" stroke="#505050" stroke-width="0.58" stroke-linejoin="round"/>
<path d="M51.60 426.68H59.89M64.23 426.68H66.26M70.34 426.68H72.64M76.44 426.68H79.02M82.59 426.68H85.39M88.73 426.68H91.77M94.95 426.68H98.14M101.21 426.68H104.52M107.46 426.68H110.90M113.78 426.68H117.27M120.10 426.68H123.65M126.44 426.68H130.02M132.79 426.68H136.40M139.16 426.68H142.78M145.50 426.68H149.15M151.86 426.68H155.53M158.23 426.68H161.90M164.60 426.68H168.28M170.96 426.68H174.66M177.32 426.68H181.03M183.69 426.68H187.41M190.09 426.68H193.78M196.44 426.68H200.16M202.80 426.68H206.54M209.19 426.68H212.91M215.55 426.68H219.29M221.94 426.68H225.66M228.29 426.68H232.04M234.67 426.68H238.58" fill="none" stroke="#333" stroke-width="0.8" opacity="0.75"/>
<text x="262" y="397.6" font-size="10.5" font-weight="bold" textLength="15" lengthAdjust="spacingAndGlyphs" fill="#111" stroke="#111" stroke-width="0.2">(F)</text>
<rect x="295.4" y="406.2" width="222.60000000000002" height="163.8" fill="none" stroke="#3c3c3c" stroke-width="1"/>
<path d="M295.37 570.0v3M295.37 406.2v2.8M303.06 570.0v1.8M303.06 406.2v1.6M310.75 570.0v3M310.75 406.2v2.8M318.44 570.0v1.8M318.44 406.2v1.6M326.13 570.0v3M326.13 406.2v2.8M333.83 570.0v1.8M333.83 406.2v1.6M341.52 570.0v3M341.52 406.2v2.8M349.21 570.0v1.8M349.21 406.2v1.6M356.90 570.0v3M356.90 406.2v2.8M364.60 570.0v1.8M364.60 406.2v1.6M372.29 570.0v3M372.29 406.2v2.8M379.98 570.0v1.8M379.98 406.2v1.6M387.68 570.0v3M387.68 406.2v2.8M395.37 570.0v1.8M395.37 406.2v1.6M403.06 570.0v3M403.06 406.2v2.8M410.75 570.0v1.8M410.75 406.2v1.6M418.44 570.0v3M418.44 406.2v2.8M426.14 570.0v1.8M426.14 406.2v1.6M433.83 570.0v3M433.83 406.2v2.8M441.52 570.0v1.8M441.52 406.2v1.6M449.22 570.0v3M449.22 406.2v2.8M456.91 570.0v1.8M456.91 406.2v1.6M464.60 570.0v3M464.60 406.2v2.8M472.29 570.0v1.8M472.29 406.2v1.6M479.99 570.0v3M479.99 406.2v2.8M487.68 570.0v1.8M487.68 406.2v1.6M495.37 570.0v3M495.37 406.2v2.8M503.06 570.0v1.8M503.06 406.2v1.6M510.75 570.0v3M510.75 406.2v2.8M295.4 406.20h-3M518 406.20h-2.4000000000000004M295.4 416.44h-1.8M518 416.44h-1.4400000000000002M295.4 426.68h-3M518 426.68h-2.4000000000000004M295.4 436.92h-1.8M518 436.92h-1.4400000000000002M295.4 447.16h-3M518 447.16h-2.4000000000000004M295.4 457.40h-1.8M518 457.40h-1.4400000000000002M295.4 467.64h-3M518 467.64h-2.4000000000000004M295.4 477.88h-1.8M518 477.88h-1.4400000000000002M295.4 488.12h-3M518 488.12h-2.4000000000000004M295.4 498.36h-1.8M518 498.36h-1.4400000000000002M295.4 508.60h-3M518 508.60h-2.4000000000000004M295.4 518.84h-1.8M518 518.84h-1.4400000000000002M295.4 529.08h-3M518 529.08h-2.4000000000000004M295.4 539.32h-1.8M518 539.32h-1.4400000000000002M295.4 549.56h-3M518 549.56h-2.4000000000000004M295.4 559.80h-1.8M518 559.80h-1.4400000000000002M295.4 570.04h-3M518 570.04h-2.4000000000000004" stroke="#3c3c3c" stroke-width="0.9" fill="none"/>
<text x="290.5" y="409.4" font-size="9" text-anchor="end" fill="#222">2</text>
<text x="290.5" y="429.88" font-size="9" text-anchor="end" fill="#222">0</text>
<text x="290.5" y="450.36" font-size="9" text-anchor="end" fill="#222">-2</text>
<text x="290.5" y="470.84" font-size="9" text-anchor="end" fill="#222">-4</text>
<text x="290.5" y="491.32" font-size="9" text-anchor="end" fill="#222">-6</text>
<text x="290.5" y="511.8" font-size="9" text-anchor="end" fill="#222">-8</text>
<text x="290.5" y="532.28" font-size="9" text-anchor="end" fill="#222">-10</text>
<text x="290.5" y="552.76" font-size="9" text-anchor="end" fill="#222">-12</text>
<text x="290.5" y="573.24" font-size="9" text-anchor="end" fill="#222">-14</text>
<text x="295.06" y="582.9" font-size="9" text-anchor="middle" textLength="15.2" lengthAdjust="spacingAndGlyphs" fill="#222">-0.5</text>
<text x="310.45" y="582.9" font-size="9" text-anchor="middle" textLength="12.4" lengthAdjust="spacingAndGlyphs" fill="#222">0.0</text>
<text x="325.83" y="582.9" font-size="9" text-anchor="middle" textLength="12.4" lengthAdjust="spacingAndGlyphs" fill="#222">0.5</text>
<text x="341.22" y="582.9" font-size="9" text-anchor="middle" textLength="12.4" lengthAdjust="spacingAndGlyphs" fill="#222">1.0</text>
<text x="356.6" y="582.9" font-size="9" text-anchor="middle" textLength="12.4" lengthAdjust="spacingAndGlyphs" fill="#222">1.5</text>
<text x="371.99" y="582.9" font-size="9" text-anchor="middle" textLength="12.4" lengthAdjust="spacingAndGlyphs" fill="#222">2.0</text>
<text x="387.38" y="582.9" font-size="9" text-anchor="middle" textLength="12.4" lengthAdjust="spacingAndGlyphs" fill="#222">2.5</text>
<text x="402.76" y="582.9" font-size="9" text-anchor="middle" textLength="12.4" lengthAdjust="spacingAndGlyphs" fill="#222">3.0</text>
<text x="418.14" y="582.9" font-size="9" text-anchor="middle" textLength="12.4" lengthAdjust="spacingAndGlyphs" fill="#222">3.5</text>
<text x="433.53" y="582.9" font-size="9" text-anchor="middle" textLength="12.4" lengthAdjust="spacingAndGlyphs" fill="#222">4.0</text>
<text x="448.92" y="582.9" font-size="9" text-anchor="middle" textLength="12.4" lengthAdjust="spacingAndGlyphs" fill="#222">4.5</text>
<text x="464.3" y="582.9" font-size="9" text-anchor="middle" textLength="12.4" lengthAdjust="spacingAndGlyphs" fill="#222">5.0</text>
<text x="479.69" y="582.9" font-size="9" text-anchor="middle" textLength="12.4" lengthAdjust="spacingAndGlyphs" fill="#222">5.5</text>
<text x="495.07" y="582.9" font-size="9" text-anchor="middle" textLength="12.4" lengthAdjust="spacingAndGlyphs" fill="#222">6.0</text>
<text x="510.45" y="582.9" font-size="9" text-anchor="middle" textLength="12.4" lengthAdjust="spacingAndGlyphs" fill="#222">6.5</text>
<text x="405.6" y="590.6" font-size="8.1" text-anchor="middle" fill="#222">Molar Ratio</text>
<text x="278" y="479.8" font-size="9" text-anchor="middle" textLength="81" lengthAdjust="spacingAndGlyphs" transform="rotate(-90 278 479.8)" fill="#222">kcal/mole of injectant</text>
<rect x="315.50" y="542.50" width="3" height="3" fill="#0a0a0a"/>
<rect x="322.00" y="529.75" width="3" height="3" fill="#0a0a0a"/>
<rect x="328.25" y="510.00" width="3" height="3" fill="#0a0a0a"/>
<rect x="334.25" y="495.25" width="3" height="3" fill="#0a0a0a"/>
<rect x="340.75" y="478.00" width="3" height="3" fill="#0a0a0a"/>
<rect x="347.00" y="467.75" width="3" height="3" fill="#0a0a0a"/>
<rect x="353.50" y="458.25" width="3" height="3" fill="#0a0a0a"/>
<rect x="359.75" y="450.75" width="3" height="3" fill="#0a0a0a"/>
<rect x="366.25" y="444.00" width="3" height="3" fill="#0a0a0a"/>
<rect x="372.75" y="441.00" width="3" height="3" fill="#0a0a0a"/>
<rect x="379.25" y="439.75" width="3" height="3" fill="#0a0a0a"/>
<rect x="386.00" y="435.00" width="3" height="3" fill="#0a0a0a"/>
<rect x="392.75" y="434.00" width="3" height="3" fill="#0a0a0a"/>
<rect x="399.25" y="431.25" width="3" height="3" fill="#0a0a0a"/>
<rect x="406.00" y="434.25" width="3" height="3" fill="#0a0a0a"/>
<rect x="412.75" y="429.25" width="3" height="3" fill="#0a0a0a"/>
<rect x="419.75" y="428.75" width="3" height="3" fill="#0a0a0a"/>
<rect x="426.50" y="423.75" width="3" height="3" fill="#0a0a0a"/>
<rect x="433.50" y="422.00" width="3" height="3" fill="#0a0a0a"/>
<rect x="440.25" y="430.50" width="3" height="3" fill="#0a0a0a"/>
<rect x="447.25" y="428.25" width="3" height="3" fill="#0a0a0a"/>
<rect x="454.50" y="425.25" width="3" height="3" fill="#0a0a0a"/>
<rect x="461.50" y="429.00" width="3" height="3" fill="#0a0a0a"/>
<rect x="468.75" y="428.50" width="3" height="3" fill="#0a0a0a"/>
<rect x="475.75" y="422.00" width="3" height="3" fill="#0a0a0a"/>
<rect x="483.00" y="426.75" width="3" height="3" fill="#0a0a0a"/>
<rect x="490.25" y="430.50" width="3" height="3" fill="#0a0a0a"/>
<rect x="497.50" y="424.00" width="3" height="3" fill="#0a0a0a"/>
<path d="M311.25 550.75 C312.21 549.46 314.96 546.54 317 543 C319.04 539.46 321.38 534.50 323.5 529.5 C325.62 524.50 327.71 518.50 329.75 513 C331.79 507.50 333.67 501.92 335.75 496.5 C337.83 491.08 340.12 485.17 342.25 480.5 C344.38 475.83 346.38 472.08 348.5 468.5 C350.62 464.92 352.88 461.75 355 459 C357.12 456.25 359.12 454.08 361.25 452 C363.38 449.92 365.58 448.08 367.75 446.5 C369.92 444.92 372.08 443.62 374.25 442.5 C376.42 441.38 378.54 440.63 380.75 439.8 C382.96 438.97 384.17 438.42 387.5 437.5 C390.83 436.58 396.29 435.17 400.75 434.3 C405.21 433.43 409.71 432.85 414.25 432.3 C418.79 431.75 423.42 431.38 428 431 C432.58 430.62 437.08 430.28 441.75 430 C446.42 429.72 451.25 429.52 456 429.3 C460.75 429.08 465.50 428.88 470.25 428.7 C475.00 428.52 479.71 428.35 484.5 428.2 C489.29 428.05 496.58 427.87 499 427.8" fill="none" stroke="#4c4c4c" stroke-width="0.7"/>
</svg>
</body></html>
